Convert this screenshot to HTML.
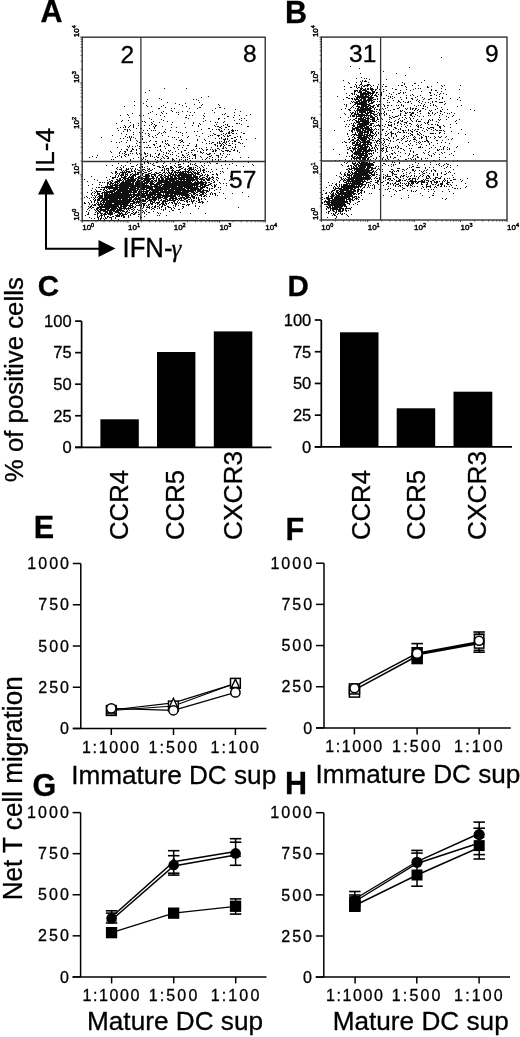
<!DOCTYPE html>
<html><head><meta charset="utf-8"><style>
html,body{margin:0;padding:0;background:#fff;}
svg{display:block;filter:grayscale(1);}
text{font-family:"Liberation Sans", sans-serif;fill:#000;stroke:#000;stroke-width:0.3px;}
</style></head><body>
<svg width="520" height="1037" viewBox="0 0 520 1037">
<rect width="520" height="1037" fill="#fff"/>
<text x="40.5" y="22.3" font-size="30.5" font-weight="bold">A</text>
<text x="285" y="22.8" font-size="30.5" font-weight="bold">B</text>
<text x="37.8" y="296.3" font-size="29.5" font-weight="bold">C</text>
<text x="287.6" y="295.8" font-size="29.5" font-weight="bold">D</text>
<text x="33.7" y="538" font-size="30.5" font-weight="bold">E</text>
<text x="285.5" y="540" font-size="30.5" font-weight="bold">F</text>
<text x="32.5" y="795.5" font-size="30.5" font-weight="bold">G</text>
<text x="285" y="793.5" font-size="30.5" font-weight="bold">H</text>
<path d="M164 88.5h1M186 88.5h1M149 90.5h1M145 92.5h1M208 96.5h1M201 97.5h1M159 98.5h1M147 99.5h1M161 99.5h1M193 99.5h1M196 99.5h1M198 100.5h1M134 101.5h1M146 101.5h1M167 102.5h1M199 102.5h1M143 103.5h1M175 103.5h1M185 103.5h1M179 104.5h1M194 104.5h1M202 104.5h1M218 104.5h1M134 105.5h1M146 105.5h1M163 105.5h1M182 105.5h1M201 105.5h1M219 105.5h1M124 106.5h1M147 106.5h1M151 106.5h1M161 106.5h1M186 106.5h1M165 107.5h1M199 107.5h2M219 107.5h2M158 108.5h2M171 108.5h1M174 108.5h1M189 108.5h1M197 108.5h1M215 108.5h1M224 108.5h1M235 109.5h1M171 110.5h1M212 110.5h1M152 111.5h1M163 111.5h1M172 111.5h1M182 111.5h1M187 111.5h1M240 111.5h1M150 112.5h1M161 112.5h1M176 112.5h1M178 112.5h1M190 112.5h1M194 112.5h1M214 112.5h1M234 112.5h1M132 113.5h1M148 113.5h1M162 113.5h1M166 113.5h1M204 113.5h1M225 113.5h1M127 114.5h1M156 114.5h1M178 114.5h1M222 114.5h1M224 114.5h1M250 114.5h1M120 115.5h1M128 115.5h1M139 115.5h1M143 115.5h1M160 115.5h1M186 115.5h1M189 115.5h1M192 115.5h1M203 115.5h1M234 115.5h1M239 115.5h1M246 115.5h1M140 116.5h1M164 116.5h1M204 116.5h1M227 116.5h2M129 117.5h1M185 117.5h2M233 117.5h1M149 118.5h1M188 118.5h1M203 118.5h1M218 118.5h2M224 118.5h1M241 118.5h1M244 118.5h1M151 119.5h1M161 119.5h1M218 119.5h1M239 119.5h1M122 120.5h1M128 120.5h1M163 120.5h1M205 120.5h1M234 120.5h1M241 120.5h1M246 120.5h1M121 121.5h1M142 121.5h1M144 121.5h1M153 121.5h1M167 121.5h1M203 121.5h1M210 121.5h1M224 121.5h1M130 122.5h1M145 122.5h1M151 122.5h1M159 122.5h1M172 122.5h1M193 122.5h1M215 122.5h1M217 122.5h1M223 122.5h1M116 123.5h1M138 123.5h1M152 123.5h1M184 123.5h1M193 123.5h1M199 123.5h1M236 123.5h2M239 123.5h1M133 124.5h1M151 124.5h1M154 124.5h1M171 124.5h1M200 124.5h1M216 124.5h1M225 124.5h1M227 124.5h1M241 124.5h1M124 125.5h1M130 125.5h1M133 125.5h1M138 125.5h1M144 125.5h1M149 125.5h1M155 125.5h2M192 125.5h1M198 125.5h1M214 125.5h1M223 125.5h1M227 125.5h1M125 126.5h1M129 126.5h1M133 126.5h1M153 126.5h1M155 126.5h1M162 126.5h1M198 126.5h1M215 126.5h1M217 126.5h2M221 126.5h1M228 126.5h2M232 126.5h1M247 126.5h2M120 127.5h1M123 127.5h1M125 127.5h1M128 127.5h1M133 127.5h1M154 127.5h1M171 127.5h1M176 127.5h1M185 127.5h1M219 127.5h2M225 127.5h2M117 128.5h1M136 128.5h1M140 128.5h2M149 128.5h1M154 128.5h1M208 128.5h2M221 128.5h1M124 129.5h2M127 129.5h1M129 129.5h1M165 129.5h1M201 129.5h1M212 129.5h1M216 129.5h1M218 129.5h2M224 129.5h1M228 129.5h1M232 129.5h1M118 130.5h1M127 130.5h1M130 130.5h1M143 130.5h1M147 130.5h1M151 130.5h1M153 130.5h1M155 130.5h1M170 130.5h1M219 130.5h1M221 130.5h1M231 130.5h3M235 130.5h1M237 130.5h1M123 131.5h1M127 131.5h1M164 131.5h1M176 131.5h1M194 131.5h1M197 131.5h1M210 131.5h1M220 131.5h3M229 131.5h1M232 131.5h2M133 132.5h1M139 132.5h1M142 132.5h1M159 132.5h1M163 132.5h1M165 132.5h1M178 132.5h1M180 132.5h1M186 132.5h1M228 132.5h2M231 132.5h1M241 132.5h1M121 133.5h1M140 133.5h1M145 133.5h1M148 133.5h1M158 133.5h1M161 133.5h1M182 133.5h1M202 133.5h1M213 133.5h1M223 133.5h1M226 133.5h1M228 133.5h2M232 133.5h2M236 133.5h1M243 133.5h2M126 134.5h1M133 134.5h1M140 134.5h1M149 134.5h1M157 134.5h1M214 134.5h2M221 134.5h1M225 134.5h1M112 135.5h1M148 135.5h1M155 135.5h1M162 135.5h1M182 135.5h1M196 135.5h1M210 135.5h1M212 135.5h1M217 135.5h3M223 135.5h1M227 135.5h1M229 135.5h2M125 136.5h1M129 136.5h1M131 136.5h1M140 136.5h1M142 136.5h1M149 136.5h1M152 136.5h1M168 136.5h1M188 136.5h1M199 136.5h1M208 136.5h1M218 136.5h1M224 136.5h1M227 136.5h2M237 136.5h1M240 136.5h1M101 137.5h1M127 137.5h1M129 137.5h1M131 137.5h1M133 137.5h1M153 137.5h1M156 137.5h1M172 137.5h1M174 137.5h1M178 137.5h1M187 137.5h1M221 137.5h1M234 137.5h2M240 137.5h1M120 138.5h1M123 138.5h1M130 138.5h1M135 138.5h1M142 138.5h1M215 138.5h1M219 138.5h1M221 138.5h1M225 138.5h1M227 138.5h1M231 138.5h2M255 138.5h1M130 139.5h1M142 139.5h1M176 139.5h1M181 139.5h1M197 139.5h1M204 139.5h1M223 139.5h3M227 139.5h1M236 139.5h1M241 139.5h1M246 139.5h1M127 140.5h1M130 140.5h1M136 140.5h1M150 140.5h1M165 140.5h1M167 140.5h1M179 140.5h2M182 140.5h1M197 140.5h1M205 140.5h1M224 140.5h1M229 140.5h1M234 140.5h2M111 141.5h1M121 141.5h1M137 141.5h1M149 141.5h1M155 141.5h2M162 141.5h1M165 141.5h1M181 141.5h2M209 141.5h1M219 141.5h1M221 141.5h1M224 141.5h1M226 141.5h1M228 141.5h1M232 141.5h1M234 141.5h2M116 142.5h1M119 142.5h1M126 142.5h1M139 142.5h2M143 142.5h2M146 142.5h1M162 142.5h1M180 142.5h1M183 142.5h1M202 142.5h1M212 142.5h2M217 142.5h1M219 142.5h1M223 142.5h2M226 142.5h1M238 142.5h2M136 143.5h1M156 143.5h1M165 143.5h1M167 143.5h1M189 143.5h1M206 143.5h1M209 143.5h1M211 143.5h1M217 143.5h1M219 143.5h2M222 143.5h1M225 143.5h1M229 143.5h1M232 143.5h1M240 143.5h1M242 143.5h1M153 144.5h2M166 144.5h1M168 144.5h1M174 144.5h1M196 144.5h1M214 144.5h2M221 144.5h1M223 144.5h1M226 144.5h1M235 144.5h1M129 145.5h1M137 145.5h1M148 145.5h1M154 145.5h1M160 145.5h1M168 145.5h2M178 145.5h2M183 145.5h1M187 145.5h2M196 145.5h1M215 145.5h1M217 145.5h1M220 145.5h2M224 145.5h1M228 145.5h3M127 146.5h1M129 146.5h1M132 146.5h1M135 146.5h1M139 146.5h2M159 146.5h2M164 146.5h1M195 146.5h2M217 146.5h1M220 146.5h1M223 146.5h1M235 146.5h1M244 146.5h1M117 147.5h1M128 147.5h1M144 147.5h1M146 147.5h2M149 147.5h2M155 147.5h1M157 147.5h1M173 147.5h1M177 147.5h1M182 147.5h1M206 147.5h1M211 147.5h1M223 147.5h1M225 147.5h1M232 147.5h1M235 147.5h1M132 148.5h1M139 148.5h1M165 148.5h1M174 148.5h1M186 148.5h1M196 148.5h1M199 148.5h1M201 148.5h1M217 148.5h2M222 148.5h2M226 148.5h1M121 149.5h1M126 149.5h2M132 149.5h2M136 149.5h1M160 149.5h1M178 149.5h1M193 149.5h1M202 149.5h1M206 149.5h2M210 149.5h1M212 149.5h1M215 149.5h1M219 149.5h1M231 149.5h1M234 149.5h1M127 150.5h1M131 150.5h1M136 150.5h1M140 150.5h1M157 150.5h1M160 150.5h1M168 150.5h1M170 150.5h1M184 150.5h2M191 150.5h2M194 150.5h1M203 150.5h1M206 150.5h1M213 150.5h1M215 150.5h2M221 150.5h1M225 150.5h4M233 150.5h2M237 150.5h1M110 151.5h1M120 151.5h1M124 151.5h2M130 151.5h2M161 151.5h1M169 151.5h1M175 151.5h1M181 151.5h1M197 151.5h1M200 151.5h1M212 151.5h2M215 151.5h1M222 151.5h2M227 151.5h1M229 151.5h2M237 151.5h1M111 152.5h1M119 152.5h1M125 152.5h1M136 152.5h1M144 152.5h1M163 152.5h1M166 152.5h1M172 152.5h1M181 152.5h1M188 152.5h1M191 152.5h1M200 152.5h2M203 152.5h1M239 152.5h1M119 153.5h1M122 153.5h1M124 153.5h1M130 153.5h1M132 153.5h1M136 153.5h1M139 153.5h1M144 153.5h2M147 153.5h1M155 153.5h1M159 153.5h1M166 153.5h1M168 153.5h1M178 153.5h1M186 153.5h1M202 153.5h1M206 153.5h1M209 153.5h2M214 153.5h1M220 153.5h1M223 153.5h1M125 154.5h2M128 154.5h1M137 154.5h1M140 154.5h2M145 154.5h1M150 154.5h1M158 154.5h2M163 154.5h1M170 154.5h1M172 154.5h1M182 154.5h1M188 154.5h1M192 154.5h1M194 154.5h2M207 154.5h3M220 154.5h1M227 154.5h1M229 154.5h1M97 155.5h1M119 155.5h1M124 155.5h1M128 155.5h1M140 155.5h1M147 155.5h1M150 155.5h1M158 155.5h1M165 155.5h1M176 155.5h1M182 155.5h2M187 155.5h1M193 155.5h3M211 155.5h1M216 155.5h3M222 155.5h1M92 156.5h1M112 156.5h1M117 156.5h1M121 156.5h1M125 156.5h1M145 156.5h2M150 156.5h1M152 156.5h1M156 156.5h1M162 156.5h1M166 156.5h2M178 156.5h1M184 156.5h1M189 156.5h1M195 156.5h1M200 156.5h1M209 156.5h2M218 156.5h1M226 156.5h1M89 157.5h1M96 157.5h1M115 157.5h1M121 157.5h1M138 157.5h1M143 157.5h1M154 157.5h1M157 157.5h2M163 157.5h1M168 157.5h1M181 157.5h1M183 157.5h1M185 157.5h1M187 157.5h1M195 157.5h1M201 157.5h1M207 157.5h1M212 157.5h1M218 157.5h1M221 157.5h1M225 157.5h1M240 157.5h1M248 157.5h1M133 158.5h1M141 158.5h1M143 158.5h1M161 158.5h1M164 158.5h1M167 158.5h2M172 158.5h1M176 158.5h1M189 158.5h1M192 158.5h1M195 158.5h1M206 158.5h1M209 158.5h1M111 159.5h1M113 159.5h1M130 159.5h1M142 159.5h1M145 159.5h1M155 159.5h1M160 159.5h1M172 159.5h2M179 159.5h1M181 159.5h1M185 159.5h1M187 159.5h1M202 159.5h1M205 159.5h1M212 159.5h1M215 159.5h1M218 159.5h1M220 159.5h1M232 159.5h1M130 160.5h1M141 160.5h1M147 160.5h1M157 160.5h1M161 160.5h1M172 160.5h1M174 160.5h1M179 160.5h1M183 160.5h1M185 160.5h1M190 160.5h1M212 160.5h1M218 160.5h1M225 160.5h1M123 161.5h1M127 161.5h1M139 161.5h1M149 161.5h1M156 161.5h1M163 161.5h2M178 161.5h1M184 161.5h1M192 161.5h1M205 161.5h1M209 161.5h1M220 161.5h3M228 161.5h1M232 161.5h1M127 162.5h1M144 162.5h1M147 162.5h2M156 162.5h2M164 162.5h1M178 162.5h1M188 162.5h1M200 162.5h1M207 162.5h1M209 162.5h1M248 162.5h1M118 163.5h1M130 163.5h1M144 163.5h1M148 163.5h1M150 163.5h1M153 163.5h1M163 163.5h1M170 163.5h1M175 163.5h1M183 163.5h1M190 163.5h1M195 163.5h1M204 163.5h1M210 163.5h1M216 163.5h2M232 163.5h1M137 164.5h1M140 164.5h3M152 164.5h1M178 164.5h3M190 164.5h1M192 164.5h1M194 164.5h1M225 164.5h1M229 164.5h1M252 164.5h1M106 165.5h1M112 165.5h1M121 165.5h1M125 165.5h1M136 165.5h1M153 165.5h2M162 165.5h1M166 165.5h1M174 165.5h1M178 165.5h1M188 165.5h1M195 165.5h2M201 165.5h1M204 165.5h1M208 165.5h1M221 165.5h1M236 165.5h1M253 165.5h1M123 166.5h1M131 166.5h3M141 166.5h2M147 166.5h1M157 166.5h3M163 166.5h1M165 166.5h1M170 166.5h2M175 166.5h1M179 166.5h3M187 166.5h2M197 166.5h1M202 166.5h1M243 166.5h1M117 167.5h1M120 167.5h1M123 167.5h1M139 167.5h2M142 167.5h1M144 167.5h1M159 167.5h2M162 167.5h2M170 167.5h3M176 167.5h1M178 167.5h3M183 167.5h1M189 167.5h3M193 167.5h1M195 167.5h1M199 167.5h1M203 167.5h1M116 168.5h1M121 168.5h1M126 168.5h1M128 168.5h1M130 168.5h1M132 168.5h1M135 168.5h1M140 168.5h1M147 168.5h1M149 168.5h1M154 168.5h1M164 168.5h1M166 168.5h3M170 168.5h2M173 168.5h1M181 168.5h2M185 168.5h1M188 168.5h4M193 168.5h1M197 168.5h1M200 168.5h1M206 168.5h1M222 168.5h1M227 168.5h1M117 169.5h1M119 169.5h3M126 169.5h3M131 169.5h1M135 169.5h1M137 169.5h1M142 169.5h3M148 169.5h2M152 169.5h1M162 169.5h1M164 169.5h1M166 169.5h1M168 169.5h1M172 169.5h1M179 169.5h2M184 169.5h2M187 169.5h1M189 169.5h5M195 169.5h1M200 169.5h1M203 169.5h2M211 169.5h1M216 169.5h1M121 170.5h1M123 170.5h1M125 170.5h2M131 170.5h1M134 170.5h1M138 170.5h2M142 170.5h1M145 170.5h1M147 170.5h1M150 170.5h2M161 170.5h2M164 170.5h1M167 170.5h2M171 170.5h3M176 170.5h4M185 170.5h1M188 170.5h2M191 170.5h1M194 170.5h1M196 170.5h1M198 170.5h1M200 170.5h1M202 170.5h3M115 171.5h2M122 171.5h1M124 171.5h1M126 171.5h4M131 171.5h2M134 171.5h2M140 171.5h2M143 171.5h1M148 171.5h2M164 171.5h1M168 171.5h1M172 171.5h1M174 171.5h2M178 171.5h1M180 171.5h1M182 171.5h7M190 171.5h1M192 171.5h2M197 171.5h1M200 171.5h1M203 171.5h1M206 171.5h1M208 171.5h1M212 171.5h1M220 171.5h1M222 171.5h1M234 171.5h1M111 172.5h1M115 172.5h2M120 172.5h7M128 172.5h3M135 172.5h1M137 172.5h5M144 172.5h3M151 172.5h1M155 172.5h2M159 172.5h2M163 172.5h2M166 172.5h1M168 172.5h2M171 172.5h2M174 172.5h10M185 172.5h1M187 172.5h5M193 172.5h3M197 172.5h3M203 172.5h2M210 172.5h1M223 172.5h1M112 173.5h1M115 173.5h1M117 173.5h1M119 173.5h1M122 173.5h2M125 173.5h1M127 173.5h1M132 173.5h1M135 173.5h1M137 173.5h2M142 173.5h2M148 173.5h3M154 173.5h1M156 173.5h3M162 173.5h1M165 173.5h1M167 173.5h1M169 173.5h3M173 173.5h1M175 173.5h1M177 173.5h1M179 173.5h8M188 173.5h1M191 173.5h2M194 173.5h5M201 173.5h1M216 173.5h1M220 173.5h1M116 174.5h1M119 174.5h1M121 174.5h3M125 174.5h3M130 174.5h2M133 174.5h6M142 174.5h1M145 174.5h4M151 174.5h5M159 174.5h3M164 174.5h1M168 174.5h1M170 174.5h4M175 174.5h2M178 174.5h16M195 174.5h1M197 174.5h3M202 174.5h1M205 174.5h1M207 174.5h1M212 174.5h2M216 174.5h2M115 175.5h1M118 175.5h1M120 175.5h4M125 175.5h1M127 175.5h1M130 175.5h1M132 175.5h4M140 175.5h1M142 175.5h1M145 175.5h5M151 175.5h1M154 175.5h2M158 175.5h2M161 175.5h2M164 175.5h2M168 175.5h3M172 175.5h20M193 175.5h3M200 175.5h3M204 175.5h1M207 175.5h2M217 175.5h1M91 176.5h1M110 176.5h1M115 176.5h1M118 176.5h1M121 176.5h1M124 176.5h3M129 176.5h1M131 176.5h3M135 176.5h1M138 176.5h3M143 176.5h7M151 176.5h3M155 176.5h1M157 176.5h1M160 176.5h2M163 176.5h1M165 176.5h4M170 176.5h3M174 176.5h2M177 176.5h3M181 176.5h11M193 176.5h5M199 176.5h2M206 176.5h2M212 176.5h1M230 176.5h1M106 177.5h1M112 177.5h4M117 177.5h1M121 177.5h5M128 177.5h6M137 177.5h3M141 177.5h2M145 177.5h4M152 177.5h2M156 177.5h2M160 177.5h3M164 177.5h2M167 177.5h2M170 177.5h3M174 177.5h3M178 177.5h20M199 177.5h1M202 177.5h3M207 177.5h1M209 177.5h1M211 177.5h3M216 177.5h2M112 178.5h2M119 178.5h2M123 178.5h6M130 178.5h4M135 178.5h2M138 178.5h17M156 178.5h1M158 178.5h2M161 178.5h3M165 178.5h20M186 178.5h8M195 178.5h4M200 178.5h3M205 178.5h2M208 178.5h3M213 178.5h1M218 178.5h1M84 179.5h1M94 179.5h1M109 179.5h1M116 179.5h2M119 179.5h2M122 179.5h1M124 179.5h2M127 179.5h9M137 179.5h2M141 179.5h2M144 179.5h7M153 179.5h1M156 179.5h1M158 179.5h2M161 179.5h3M165 179.5h12M178 179.5h20M199 179.5h6M206 179.5h4M212 179.5h1M216 179.5h1M224 179.5h1M97 180.5h1M107 180.5h1M111 180.5h2M117 180.5h5M123 180.5h1M125 180.5h11M137 180.5h4M143 180.5h7M151 180.5h2M154 180.5h3M158 180.5h10M169 180.5h6M176 180.5h3M180 180.5h2M183 180.5h2M186 180.5h9M196 180.5h2M201 180.5h1M203 180.5h2M207 180.5h3M213 180.5h1M217 180.5h1M229 180.5h1M233 180.5h1M87 181.5h1M109 181.5h2M112 181.5h1M115 181.5h5M122 181.5h2M125 181.5h10M136 181.5h4M141 181.5h4M146 181.5h8M155 181.5h2M158 181.5h33M192 181.5h1M195 181.5h1M197 181.5h2M200 181.5h3M205 181.5h1M211 181.5h1M214 181.5h1M99 182.5h2M102 182.5h1M104 182.5h1M107 182.5h2M110 182.5h2M114 182.5h4M119 182.5h1M121 182.5h10M132 182.5h2M135 182.5h8M144 182.5h5M150 182.5h3M154 182.5h1M157 182.5h14M172 182.5h20M194 182.5h13M208 182.5h2M213 182.5h2M219 182.5h1M107 183.5h2M110 183.5h4M115 183.5h1M117 183.5h2M120 183.5h14M135 183.5h13M149 183.5h5M156 183.5h6M164 183.5h40M205 183.5h2M210 183.5h2M220 183.5h1M223 183.5h1M226 183.5h1M92 184.5h1M99 184.5h1M107 184.5h1M109 184.5h2M112 184.5h1M114 184.5h4M119 184.5h15M135 184.5h10M146 184.5h1M150 184.5h10M161 184.5h38M200 184.5h6M208 184.5h3M214 184.5h1M216 184.5h1M230 184.5h1M88 185.5h1M101 185.5h1M107 185.5h1M110 185.5h39M150 185.5h2M154 185.5h4M159 185.5h3M163 185.5h35M200 185.5h3M204 185.5h5M211 185.5h1M214 185.5h2M226 185.5h1M105 186.5h8M115 186.5h3M119 186.5h42M162 186.5h15M178 186.5h15M194 186.5h1M196 186.5h5M202 186.5h4M212 186.5h1M214 186.5h2M96 187.5h1M98 187.5h2M101 187.5h28M130 187.5h6M137 187.5h16M154 187.5h29M184 187.5h14M200 187.5h5M206 187.5h2M214 187.5h1M218 187.5h1M220 187.5h1M92 188.5h1M104 188.5h1M106 188.5h1M108 188.5h10M119 188.5h20M140 188.5h5M146 188.5h7M155 188.5h15M171 188.5h14M186 188.5h13M200 188.5h3M207 188.5h1M209 188.5h1M211 188.5h2M95 189.5h1M100 189.5h2M103 189.5h2M107 189.5h1M109 189.5h1M113 189.5h15M129 189.5h7M137 189.5h10M149 189.5h37M187 189.5h2M190 189.5h12M203 189.5h1M209 189.5h1M216 189.5h1M220 189.5h1M91 190.5h1M96 190.5h1M103 190.5h1M105 190.5h2M110 190.5h6M117 190.5h21M139 190.5h1M141 190.5h1M143 190.5h1M146 190.5h4M151 190.5h12M164 190.5h3M168 190.5h6M175 190.5h21M197 190.5h4M202 190.5h6M209 190.5h1M214 190.5h1M94 191.5h1M96 191.5h5M104 191.5h1M106 191.5h9M116 191.5h16M133 191.5h4M138 191.5h11M150 191.5h1M152 191.5h7M160 191.5h21M182 191.5h12M195 191.5h1M197 191.5h7M206 191.5h3M87 192.5h1M92 192.5h1M95 192.5h1M97 192.5h1M102 192.5h11M114 192.5h7M122 192.5h15M138 192.5h4M143 192.5h1M145 192.5h3M149 192.5h40M191 192.5h4M196 192.5h2M200 192.5h5M206 192.5h1M211 192.5h1M219 192.5h1M242 192.5h1M91 193.5h1M94 193.5h1M97 193.5h3M101 193.5h2M104 193.5h4M109 193.5h1M111 193.5h18M130 193.5h1M133 193.5h2M137 193.5h3M141 193.5h7M149 193.5h7M157 193.5h4M163 193.5h1M165 193.5h23M189 193.5h2M193 193.5h3M199 193.5h1M202 193.5h2M205 193.5h1M210 193.5h1M212 193.5h1M214 193.5h2M223 193.5h1M232 193.5h1M91 194.5h1M97 194.5h3M102 194.5h1M104 194.5h41M146 194.5h16M163 194.5h1M165 194.5h4M170 194.5h3M174 194.5h15M191 194.5h1M193 194.5h2M196 194.5h2M200 194.5h4M206 194.5h1M210 194.5h1M212 194.5h1M215 194.5h1M92 195.5h1M94 195.5h1M96 195.5h1M99 195.5h4M104 195.5h28M133 195.5h20M154 195.5h2M157 195.5h19M177 195.5h1M179 195.5h1M181 195.5h9M191 195.5h2M195 195.5h1M197 195.5h1M199 195.5h3M204 195.5h2M215 195.5h1M217 195.5h1M86 196.5h1M95 196.5h1M98 196.5h5M104 196.5h26M131 196.5h4M136 196.5h3M140 196.5h6M147 196.5h4M152 196.5h3M156 196.5h5M162 196.5h14M178 196.5h2M182 196.5h1M185 196.5h4M191 196.5h4M201 196.5h1M203 196.5h2M206 196.5h1M209 196.5h1M248 196.5h1M84 197.5h1M87 197.5h1M91 197.5h1M93 197.5h1M95 197.5h1M97 197.5h1M99 197.5h4M104 197.5h30M135 197.5h2M138 197.5h8M147 197.5h16M164 197.5h4M170 197.5h4M175 197.5h2M180 197.5h5M186 197.5h5M192 197.5h3M196 197.5h1M198 197.5h1M89 198.5h1M94 198.5h1M98 198.5h30M129 198.5h3M134 198.5h7M145 198.5h5M152 198.5h5M158 198.5h3M163 198.5h4M169 198.5h8M178 198.5h4M183 198.5h5M190 198.5h1M193 198.5h2M196 198.5h1M198 198.5h1M201 198.5h1M204 198.5h1M225 198.5h1M93 199.5h1M95 199.5h1M97 199.5h3M102 199.5h6M109 199.5h9M119 199.5h2M122 199.5h10M133 199.5h8M142 199.5h2M145 199.5h3M149 199.5h8M158 199.5h1M161 199.5h1M165 199.5h3M169 199.5h2M172 199.5h2M175 199.5h3M179 199.5h1M181 199.5h1M184 199.5h2M188 199.5h2M191 199.5h1M198 199.5h2M201 199.5h1M205 199.5h1M90 200.5h1M94 200.5h2M97 200.5h3M101 200.5h30M132 200.5h2M135 200.5h1M137 200.5h1M139 200.5h7M148 200.5h4M153 200.5h3M158 200.5h1M160 200.5h2M163 200.5h3M167 200.5h9M178 200.5h1M180 200.5h4M186 200.5h2M191 200.5h1M193 200.5h2M198 200.5h2M91 201.5h1M94 201.5h1M97 201.5h1M100 201.5h2M103 201.5h2M106 201.5h29M136 201.5h5M142 201.5h4M147 201.5h1M150 201.5h3M154 201.5h1M159 201.5h1M162 201.5h6M173 201.5h2M177 201.5h1M184 201.5h1M186 201.5h2M189 201.5h1M191 201.5h3M196 201.5h1M199 201.5h1M201 201.5h2M207 201.5h1M84 202.5h1M88 202.5h1M91 202.5h1M94 202.5h1M97 202.5h2M100 202.5h1M102 202.5h28M133 202.5h7M141 202.5h1M146 202.5h1M150 202.5h1M152 202.5h3M156 202.5h4M162 202.5h2M165 202.5h1M169 202.5h1M171 202.5h2M174 202.5h1M177 202.5h1M179 202.5h1M187 202.5h1M192 202.5h1M198 202.5h3M202 202.5h2M84 203.5h2M89 203.5h1M96 203.5h1M98 203.5h1M100 203.5h2M103 203.5h1M105 203.5h7M114 203.5h15M130 203.5h5M136 203.5h1M138 203.5h1M140 203.5h1M142 203.5h4M150 203.5h3M155 203.5h1M157 203.5h2M161 203.5h3M165 203.5h2M168 203.5h1M172 203.5h1M174 203.5h3M178 203.5h1M180 203.5h1M192 203.5h1M195 203.5h1M202 203.5h1M89 204.5h1M92 204.5h1M94 204.5h2M97 204.5h31M130 204.5h1M132 204.5h1M135 204.5h1M139 204.5h1M141 204.5h1M143 204.5h2M148 204.5h2M151 204.5h2M157 204.5h1M159 204.5h2M162 204.5h3M166 204.5h1M175 204.5h2M182 204.5h3M187 204.5h3M91 205.5h1M93 205.5h3M98 205.5h2M101 205.5h2M104 205.5h15M120 205.5h2M123 205.5h10M136 205.5h6M143 205.5h2M146 205.5h1M148 205.5h1M155 205.5h1M159 205.5h1M162 205.5h1M164 205.5h2M173 205.5h1M175 205.5h1M178 205.5h1M186 205.5h1M188 205.5h1M195 205.5h1M88 206.5h1M90 206.5h2M99 206.5h20M120 206.5h7M129 206.5h2M132 206.5h2M135 206.5h1M141 206.5h1M143 206.5h1M147 206.5h1M149 206.5h1M152 206.5h1M154 206.5h2M157 206.5h2M161 206.5h2M167 206.5h2M175 206.5h1M182 206.5h2M195 206.5h1M199 206.5h1M89 207.5h2M92 207.5h2M97 207.5h20M118 207.5h4M123 207.5h3M128 207.5h1M130 207.5h3M134 207.5h2M140 207.5h1M143 207.5h1M146 207.5h4M151 207.5h1M154 207.5h2M159 207.5h1M161 207.5h1M165 207.5h1M168 207.5h3M173 207.5h1M183 207.5h1M238 207.5h1M88 208.5h1M91 208.5h1M96 208.5h3M100 208.5h2M105 208.5h5M111 208.5h7M119 208.5h12M133 208.5h1M140 208.5h1M142 208.5h1M149 208.5h1M152 208.5h2M157 208.5h1M159 208.5h1M165 208.5h1M171 208.5h1M174 208.5h1M182 208.5h1M198 208.5h1M87 209.5h1M94 209.5h1M96 209.5h2M99 209.5h10M110 209.5h6M117 209.5h5M124 209.5h1M126 209.5h1M128 209.5h1M131 209.5h2M134 209.5h1M137 209.5h1M146 209.5h1M151 209.5h1M154 209.5h1M161 209.5h1M163 209.5h1M165 209.5h1M171 209.5h1M178 209.5h2M89 210.5h1M95 210.5h1M97 210.5h2M100 210.5h6M107 210.5h8M116 210.5h8M127 210.5h1M129 210.5h1M133 210.5h1M138 210.5h3M142 210.5h1M145 210.5h1M163 210.5h1M172 210.5h2M86 211.5h1M96 211.5h1M98 211.5h3M103 211.5h5M109 211.5h3M113 211.5h6M120 211.5h1M122 211.5h3M126 211.5h2M132 211.5h1M136 211.5h1M143 211.5h1M146 211.5h1M153 211.5h1M169 211.5h1M88 212.5h1M95 212.5h1M97 212.5h1M99 212.5h2M105 212.5h3M109 212.5h4M115 212.5h5M121 212.5h1M125 212.5h2M128 212.5h2M133 212.5h1M135 212.5h2M138 212.5h1M142 212.5h1M144 212.5h1M148 212.5h2M157 212.5h1M180 212.5h1M88 213.5h1M97 213.5h2M100 213.5h3M104 213.5h2M107 213.5h6M114 213.5h1M118 213.5h5M125 213.5h1M127 213.5h1M131 213.5h2M134 213.5h2M144 213.5h1M158 213.5h1M160 213.5h1M190 213.5h1M205 213.5h1M87 214.5h2M94 214.5h2M97 214.5h1M101 214.5h1M103 214.5h4M108 214.5h5M117 214.5h1M119 214.5h2M122 214.5h5M130 214.5h1M133 214.5h2M138 214.5h2M146 214.5h1M85 215.5h1M97 215.5h1M100 215.5h3M104 215.5h1M110 215.5h1M115 215.5h5M121 215.5h3M128 215.5h1M130 215.5h1M157 215.5h1M159 215.5h1M166 215.5h1M97 216.5h1M99 216.5h1M101 216.5h1M104 216.5h1M107 216.5h2M112 216.5h2M116 216.5h4M121 216.5h1M123 216.5h2M128 216.5h1M138 216.5h1M140 216.5h1M144 216.5h1M89 217.5h1M97 217.5h2M101 217.5h1M105 217.5h1M107 217.5h1M109 217.5h3M115 217.5h1M123 217.5h2M128 217.5h1M140 217.5h2M91 218.5h1M94 218.5h1M98 218.5h1M100 218.5h2M103 218.5h1M105 218.5h2M111 218.5h1M115 218.5h1M140 218.5h1M98 219.5h1M100 219.5h1M104 219.5h1M111 219.5h1M118 219.5h1" stroke="#111" stroke-width="1" fill="none" shape-rendering="crispEdges"/>
<path d="M441 57.5h1M350 66.5h1M409 67.5h1M359 68.5h1M383 71.5h1M360 73.5h1M396 73.5h1M405 75.5h1M361 77.5h1M356 78.5h1M364 78.5h1M366 78.5h1M369 79.5h1M386 79.5h1M343 80.5h1M362 80.5h1M365 80.5h1M424 80.5h1M360 81.5h1M362 81.5h1M364 81.5h3M380 81.5h1M348 82.5h1M356 82.5h1M361 82.5h1M368 82.5h1M402 82.5h1M421 82.5h1M437 82.5h1M349 83.5h1M361 83.5h1M404 83.5h1M414 83.5h2M355 84.5h1M360 84.5h2M367 84.5h3M378 84.5h1M383 84.5h1M404 84.5h1M356 85.5h1M359 85.5h1M362 85.5h1M364 85.5h5M370 85.5h1M373 85.5h1M398 85.5h1M401 85.5h2M412 85.5h1M418 85.5h1M441 85.5h1M444 85.5h1M460 85.5h1M344 86.5h1M354 86.5h1M356 86.5h1M361 86.5h1M363 86.5h2M367 86.5h1M371 86.5h1M377 86.5h1M382 86.5h1M385 86.5h2M405 86.5h1M427 86.5h1M431 86.5h1M442 86.5h1M350 87.5h2M356 87.5h1M358 87.5h2M361 87.5h1M370 87.5h1M377 87.5h1M406 87.5h1M427 87.5h2M357 88.5h1M360 88.5h3M365 88.5h1M367 88.5h2M370 88.5h3M377 88.5h1M392 88.5h1M415 88.5h1M418 88.5h1M420 88.5h1M441 88.5h1M344 89.5h1M360 89.5h2M363 89.5h3M367 89.5h2M370 89.5h4M375 89.5h2M379 89.5h1M383 89.5h1M395 89.5h2M406 89.5h1M413 89.5h1M431 89.5h1M445 89.5h1M459 89.5h1M354 90.5h4M359 90.5h2M362 90.5h5M371 90.5h2M375 90.5h1M386 90.5h1M400 90.5h1M410 90.5h1M431 90.5h1M435 90.5h2M354 91.5h2M357 91.5h1M359 91.5h3M365 91.5h4M372 91.5h3M383 91.5h1M421 91.5h1M441 91.5h1M354 92.5h1M358 92.5h4M363 92.5h3M367 92.5h4M372 92.5h3M376 92.5h2M381 92.5h1M393 92.5h1M400 92.5h1M403 92.5h1M405 92.5h1M429 92.5h2M437 92.5h1M346 93.5h1M351 93.5h2M354 93.5h1M360 93.5h14M376 93.5h1M381 93.5h1M389 93.5h1M398 93.5h2M403 93.5h1M430 93.5h1M440 93.5h1M443 93.5h1M352 94.5h1M354 94.5h1M356 94.5h1M360 94.5h9M370 94.5h1M372 94.5h1M375 94.5h1M378 94.5h1M381 94.5h1M391 94.5h1M396 94.5h1M412 94.5h1M434 94.5h1M439 94.5h1M446 94.5h1M349 95.5h1M357 95.5h2M360 95.5h4M365 95.5h2M368 95.5h2M371 95.5h2M374 95.5h3M381 95.5h1M386 95.5h1M406 95.5h1M410 95.5h1M413 95.5h1M420 95.5h1M430 95.5h2M436 95.5h1M337 96.5h1M355 96.5h1M357 96.5h12M370 96.5h2M376 96.5h2M388 96.5h1M390 96.5h1M392 96.5h1M417 96.5h1M439 96.5h1M346 97.5h2M356 97.5h18M390 97.5h1M394 97.5h1M400 97.5h1M406 97.5h1M415 97.5h1M422 97.5h1M442 97.5h1M459 97.5h1M348 98.5h2M351 98.5h2M354 98.5h1M356 98.5h2M359 98.5h1M361 98.5h5M368 98.5h5M377 98.5h1M383 98.5h2M388 98.5h1M392 98.5h1M406 98.5h1M411 98.5h2M424 98.5h1M430 98.5h2M436 98.5h1M442 98.5h1M450 98.5h1M343 99.5h1M352 99.5h1M354 99.5h5M360 99.5h2M363 99.5h3M367 99.5h5M373 99.5h3M377 99.5h1M401 99.5h1M412 99.5h1M417 99.5h1M423 99.5h1M428 99.5h2M439 99.5h1M457 99.5h1M355 100.5h1M358 100.5h4M363 100.5h10M387 100.5h1M393 100.5h1M398 100.5h1M416 100.5h1M419 100.5h1M460 100.5h1M351 101.5h1M353 101.5h1M356 101.5h4M361 101.5h6M368 101.5h2M371 101.5h1M373 101.5h2M377 101.5h1M379 101.5h1M398 101.5h2M403 101.5h1M408 101.5h1M410 101.5h1M418 101.5h1M422 101.5h1M432 101.5h1M435 101.5h2M444 101.5h1M352 102.5h1M354 102.5h4M359 102.5h8M368 102.5h1M371 102.5h3M387 102.5h1M389 102.5h1M397 102.5h1M400 102.5h1M405 102.5h1M407 102.5h2M419 102.5h1M425 102.5h1M428 102.5h1M432 102.5h1M439 102.5h4M350 103.5h1M355 103.5h12M369 103.5h4M380 103.5h1M411 103.5h1M421 103.5h1M430 103.5h1M445 103.5h1M344 104.5h1M346 104.5h1M354 104.5h2M357 104.5h13M376 104.5h1M378 104.5h2M383 104.5h1M401 104.5h1M424 104.5h1M433 104.5h1M444 104.5h1M346 105.5h1M353 105.5h1M357 105.5h1M361 105.5h6M368 105.5h3M373 105.5h2M377 105.5h2M384 105.5h1M387 105.5h2M391 105.5h1M396 105.5h1M398 105.5h1M401 105.5h1M403 105.5h1M414 105.5h1M418 105.5h1M420 105.5h1M423 105.5h1M430 105.5h1M433 105.5h1M435 105.5h1M461 105.5h1M346 106.5h1M352 106.5h1M356 106.5h4M361 106.5h8M370 106.5h4M377 106.5h2M384 106.5h1M403 106.5h1M416 106.5h1M423 106.5h1M425 106.5h1M436 106.5h1M457 106.5h1M351 107.5h1M353 107.5h1M358 107.5h6M365 107.5h3M369 107.5h2M372 107.5h2M375 107.5h1M387 107.5h1M399 107.5h1M410 107.5h1M427 107.5h1M441 107.5h1M345 108.5h1M350 108.5h1M355 108.5h1M357 108.5h2M360 108.5h12M374 108.5h1M380 108.5h1M382 108.5h1M385 108.5h1M397 108.5h2M405 108.5h1M407 108.5h1M410 108.5h1M412 108.5h2M415 108.5h2M422 108.5h2M437 108.5h1M341 109.5h1M348 109.5h2M357 109.5h14M374 109.5h1M376 109.5h2M379 109.5h1M383 109.5h1M393 109.5h2M406 109.5h1M410 109.5h1M412 109.5h1M415 109.5h1M418 109.5h1M425 109.5h1M435 109.5h1M442 109.5h1M447 109.5h1M470 109.5h1M349 110.5h2M354 110.5h1M356 110.5h17M379 110.5h2M388 110.5h1M390 110.5h1M400 110.5h1M402 110.5h1M414 110.5h1M417 110.5h1M420 110.5h1M429 110.5h1M431 110.5h1M440 110.5h1M474 110.5h1M355 111.5h1M357 111.5h1M359 111.5h7M367 111.5h1M369 111.5h6M376 111.5h1M384 111.5h1M400 111.5h2M404 111.5h1M419 111.5h2M430 111.5h1M440 111.5h2M350 112.5h1M352 112.5h2M355 112.5h1M357 112.5h1M359 112.5h7M367 112.5h5M374 112.5h1M378 112.5h1M380 112.5h1M384 112.5h1M392 112.5h1M405 112.5h1M407 112.5h1M409 112.5h2M412 112.5h2M417 112.5h1M428 112.5h1M432 112.5h1M437 112.5h1M444 112.5h1M451 112.5h1M344 113.5h1M351 113.5h2M354 113.5h2M357 113.5h2M361 113.5h2M365 113.5h4M370 113.5h4M377 113.5h1M379 113.5h1M381 113.5h1M383 113.5h1M386 113.5h1M400 113.5h1M405 113.5h2M411 113.5h3M420 113.5h1M428 113.5h2M432 113.5h1M435 113.5h1M440 113.5h1M447 113.5h1M449 113.5h1M454 113.5h1M345 114.5h1M351 114.5h1M354 114.5h11M366 114.5h2M370 114.5h1M373 114.5h4M379 114.5h1M384 114.5h1M386 114.5h1M400 114.5h1M410 114.5h2M415 114.5h1M434 114.5h1M442 114.5h1M350 115.5h1M352 115.5h3M356 115.5h1M358 115.5h14M374 115.5h1M377 115.5h1M379 115.5h1M384 115.5h1M389 115.5h1M398 115.5h1M400 115.5h1M404 115.5h2M410 115.5h2M417 115.5h1M428 115.5h1M430 115.5h1M439 115.5h1M453 115.5h1M350 116.5h1M352 116.5h3M356 116.5h7M364 116.5h1M366 116.5h1M368 116.5h1M370 116.5h3M375 116.5h2M392 116.5h1M395 116.5h3M412 116.5h1M414 116.5h1M419 116.5h1M423 116.5h1M446 116.5h1M452 116.5h1M340 117.5h1M348 117.5h1M356 117.5h1M360 117.5h2M363 117.5h3M367 117.5h2M370 117.5h5M377 117.5h1M389 117.5h2M393 117.5h2M402 117.5h1M405 117.5h1M409 117.5h1M439 117.5h1M448 117.5h1M355 118.5h2M358 118.5h6M365 118.5h5M372 118.5h3M377 118.5h1M381 118.5h1M391 118.5h1M399 118.5h1M406 118.5h1M410 118.5h1M413 118.5h1M350 119.5h1M353 119.5h2M358 119.5h8M367 119.5h2M370 119.5h5M377 119.5h2M382 119.5h1M389 119.5h1M398 119.5h1M404 119.5h1M410 119.5h1M417 119.5h1M421 119.5h1M429 119.5h1M432 119.5h1M438 119.5h1M440 119.5h1M446 119.5h1M459 119.5h1M347 120.5h1M349 120.5h1M352 120.5h1M355 120.5h2M358 120.5h1M360 120.5h9M372 120.5h3M376 120.5h1M395 120.5h1M400 120.5h1M402 120.5h1M411 120.5h1M416 120.5h1M428 120.5h1M430 120.5h1M432 120.5h1M439 120.5h1M456 120.5h1M344 121.5h1M356 121.5h13M370 121.5h1M372 121.5h4M378 121.5h1M386 121.5h1M389 121.5h1M394 121.5h1M398 121.5h1M401 121.5h2M407 121.5h1M412 121.5h1M416 121.5h1M418 121.5h3M428 121.5h1M436 121.5h1M455 121.5h1M354 122.5h1M356 122.5h4M362 122.5h8M376 122.5h1M380 122.5h1M388 122.5h1M390 122.5h2M397 122.5h2M404 122.5h3M424 122.5h1M427 122.5h2M438 122.5h1M351 123.5h1M353 123.5h1M355 123.5h1M358 123.5h11M370 123.5h4M380 123.5h1M394 123.5h1M397 123.5h1M400 123.5h1M406 123.5h1M409 123.5h2M425 123.5h1M427 123.5h1M456 123.5h1M346 124.5h1M349 124.5h1M353 124.5h1M357 124.5h12M370 124.5h2M378 124.5h1M385 124.5h1M388 124.5h1M391 124.5h1M394 124.5h1M401 124.5h1M404 124.5h1M411 124.5h1M417 124.5h1M421 124.5h1M428 124.5h1M431 124.5h2M435 124.5h1M437 124.5h1M450 124.5h1M352 125.5h3M357 125.5h1M359 125.5h8M369 125.5h3M374 125.5h1M376 125.5h4M382 125.5h1M388 125.5h4M397 125.5h1M407 125.5h1M416 125.5h1M418 125.5h1M420 125.5h1M437 125.5h2M443 125.5h1M345 126.5h1M348 126.5h1M353 126.5h2M357 126.5h8M366 126.5h3M373 126.5h1M375 126.5h1M379 126.5h1M384 126.5h1M391 126.5h1M401 126.5h1M405 126.5h1M410 126.5h1M417 126.5h2M439 126.5h2M444 126.5h1M352 127.5h1M355 127.5h8M364 127.5h5M370 127.5h2M387 127.5h1M394 127.5h2M406 127.5h1M418 127.5h1M420 127.5h2M427 127.5h1M430 127.5h4M439 127.5h2M450 127.5h1M352 128.5h7M360 128.5h10M371 128.5h1M375 128.5h1M380 128.5h1M395 128.5h2M400 128.5h1M423 128.5h1M428 128.5h2M433 128.5h1M440 128.5h1M352 129.5h3M356 129.5h5M362 129.5h2M365 129.5h8M374 129.5h1M376 129.5h1M378 129.5h1M382 129.5h2M389 129.5h1M393 129.5h1M398 129.5h1M400 129.5h1M408 129.5h1M412 129.5h1M415 129.5h1M417 129.5h2M426 129.5h1M431 129.5h1M435 129.5h1M461 129.5h1M334 130.5h1M349 130.5h1M351 130.5h2M354 130.5h1M356 130.5h5M362 130.5h4M367 130.5h5M373 130.5h1M382 130.5h1M402 130.5h2M405 130.5h1M408 130.5h1M410 130.5h1M414 130.5h1M422 130.5h1M427 130.5h1M433 130.5h1M436 130.5h2M439 130.5h3M443 130.5h1M351 131.5h2M357 131.5h6M364 131.5h5M370 131.5h3M376 131.5h1M380 131.5h1M386 131.5h1M391 131.5h1M398 131.5h1M403 131.5h1M411 131.5h2M416 131.5h2M424 131.5h1M444 131.5h1M451 131.5h1M352 132.5h1M355 132.5h1M357 132.5h1M359 132.5h10M370 132.5h3M375 132.5h1M378 132.5h1M390 132.5h2M397 132.5h1M399 132.5h2M403 132.5h2M406 132.5h1M412 132.5h1M419 132.5h1M439 132.5h2M347 133.5h1M355 133.5h1M358 133.5h5M364 133.5h1M367 133.5h2M370 133.5h1M372 133.5h2M375 133.5h1M378 133.5h1M380 133.5h1M385 133.5h1M388 133.5h1M391 133.5h3M395 133.5h1M408 133.5h1M410 133.5h1M417 133.5h1M420 133.5h1M430 133.5h4M435 133.5h1M439 133.5h1M444 133.5h1M458 133.5h1M347 134.5h1M352 134.5h5M358 134.5h5M364 134.5h4M369 134.5h2M374 134.5h1M376 134.5h1M381 134.5h1M387 134.5h1M391 134.5h1M395 134.5h1M411 134.5h2M417 134.5h2M421 134.5h1M465 134.5h1M351 135.5h1M354 135.5h1M356 135.5h9M366 135.5h8M376 135.5h1M385 135.5h2M391 135.5h1M396 135.5h1M404 135.5h1M410 135.5h1M412 135.5h1M419 135.5h1M423 135.5h1M348 136.5h1M353 136.5h1M358 136.5h4M363 136.5h5M369 136.5h1M371 136.5h2M375 136.5h1M391 136.5h1M396 136.5h1M403 136.5h1M406 136.5h1M408 136.5h1M414 136.5h1M421 136.5h1M425 136.5h2M428 136.5h1M434 136.5h1M438 136.5h1M441 136.5h1M446 136.5h1M352 137.5h1M354 137.5h1M357 137.5h12M370 137.5h1M372 137.5h1M380 137.5h1M388 137.5h1M393 137.5h1M404 137.5h1M413 137.5h1M415 137.5h1M421 137.5h2M426 137.5h1M430 137.5h1M435 137.5h1M439 137.5h2M445 137.5h1M349 138.5h1M354 138.5h2M358 138.5h9M368 138.5h2M372 138.5h1M374 138.5h1M378 138.5h1M381 138.5h1M383 138.5h1M389 138.5h1M393 138.5h1M401 138.5h1M403 138.5h1M407 138.5h1M414 138.5h1M419 138.5h1M421 138.5h1M426 138.5h1M434 138.5h1M452 138.5h1M348 139.5h2M352 139.5h2M357 139.5h2M360 139.5h7M369 139.5h3M379 139.5h1M384 139.5h1M386 139.5h2M397 139.5h2M402 139.5h1M413 139.5h3M426 139.5h1M448 139.5h1M451 139.5h1M351 140.5h3M356 140.5h4M361 140.5h5M367 140.5h3M372 140.5h2M375 140.5h1M377 140.5h2M383 140.5h1M388 140.5h1M390 140.5h1M396 140.5h1M401 140.5h1M407 140.5h1M410 140.5h1M416 140.5h1M426 140.5h2M436 140.5h2M442 140.5h1M344 141.5h1M350 141.5h1M354 141.5h2M357 141.5h1M359 141.5h2M362 141.5h8M376 141.5h2M379 141.5h1M384 141.5h1M390 141.5h1M393 141.5h1M405 141.5h2M409 141.5h1M414 141.5h1M419 141.5h1M422 141.5h1M424 141.5h2M427 141.5h2M342 142.5h1M345 142.5h2M349 142.5h1M352 142.5h3M356 142.5h3M360 142.5h12M374 142.5h1M376 142.5h1M381 142.5h1M384 142.5h1M399 142.5h1M416 142.5h1M418 142.5h1M420 142.5h1M428 142.5h1M431 142.5h1M441 142.5h1M445 142.5h1M468 142.5h1M352 143.5h3M356 143.5h2M359 143.5h2M363 143.5h3M367 143.5h2M370 143.5h2M377 143.5h1M379 143.5h1M383 143.5h1M389 143.5h1M402 143.5h1M410 143.5h1M419 143.5h1M429 143.5h1M437 143.5h1M449 143.5h1M352 144.5h1M355 144.5h6M362 144.5h9M375 144.5h1M382 144.5h1M385 144.5h1M408 144.5h1M416 144.5h1M421 144.5h1M429 144.5h1M346 145.5h1M353 145.5h13M367 145.5h1M370 145.5h2M375 145.5h2M378 145.5h1M383 145.5h1M388 145.5h1M397 145.5h1M409 145.5h1M412 145.5h1M426 145.5h1M433 145.5h1M350 146.5h1M355 146.5h1M358 146.5h5M364 146.5h5M371 146.5h1M375 146.5h1M385 146.5h2M395 146.5h1M398 146.5h1M406 146.5h1M420 146.5h1M440 146.5h1M444 146.5h1M457 146.5h1M347 147.5h1M349 147.5h1M352 147.5h1M354 147.5h2M357 147.5h2M360 147.5h8M369 147.5h1M372 147.5h1M374 147.5h1M376 147.5h1M380 147.5h1M383 147.5h1M387 147.5h1M389 147.5h1M391 147.5h1M393 147.5h1M395 147.5h1M398 147.5h1M418 147.5h3M422 147.5h1M431 147.5h1M435 147.5h1M443 147.5h1M447 147.5h1M456 147.5h1M349 148.5h2M352 148.5h5M358 148.5h9M369 148.5h1M371 148.5h2M374 148.5h1M377 148.5h1M381 148.5h3M386 148.5h1M391 148.5h1M397 148.5h1M400 148.5h2M409 148.5h1M411 148.5h1M429 148.5h1M443 148.5h1M449 148.5h1M333 149.5h1M347 149.5h2M353 149.5h3M357 149.5h10M368 149.5h3M375 149.5h1M377 149.5h1M382 149.5h1M386 149.5h1M403 149.5h1M437 149.5h1M439 149.5h1M441 149.5h1M443 149.5h1M447 149.5h1M449 149.5h1M350 150.5h2M353 150.5h1M355 150.5h1M357 150.5h5M363 150.5h11M375 150.5h1M381 150.5h1M383 150.5h1M386 150.5h1M392 150.5h1M404 150.5h1M410 150.5h1M425 150.5h1M437 150.5h2M351 151.5h2M355 151.5h15M371 151.5h1M375 151.5h1M382 151.5h1M386 151.5h2M398 151.5h1M410 151.5h1M413 151.5h1M429 151.5h1M454 151.5h1M347 152.5h1M352 152.5h1M354 152.5h7M362 152.5h2M365 152.5h3M373 152.5h1M377 152.5h1M380 152.5h1M385 152.5h1M394 152.5h1M400 152.5h1M413 152.5h1M423 152.5h1M428 152.5h1M435 152.5h1M441 152.5h1M444 152.5h1M347 153.5h1M353 153.5h14M368 153.5h4M373 153.5h1M391 153.5h2M395 153.5h1M405 153.5h1M409 153.5h1M424 153.5h1M433 153.5h1M442 153.5h1M451 153.5h1M339 154.5h1M352 154.5h1M354 154.5h10M365 154.5h3M369 154.5h1M371 154.5h1M389 154.5h1M392 154.5h1M409 154.5h1M416 154.5h2M428 154.5h1M434 154.5h1M439 154.5h1M449 154.5h1M473 154.5h1M351 155.5h2M356 155.5h1M358 155.5h10M372 155.5h1M380 155.5h1M386 155.5h1M397 155.5h1M408 155.5h1M413 155.5h1M415 155.5h1M429 155.5h1M431 155.5h1M453 155.5h1M346 156.5h1M349 156.5h1M351 156.5h2M354 156.5h2M357 156.5h1M359 156.5h3M364 156.5h4M370 156.5h2M379 156.5h1M387 156.5h1M390 156.5h1M400 156.5h1M413 156.5h1M417 156.5h1M431 156.5h1M352 157.5h3M356 157.5h11M368 157.5h2M376 157.5h1M383 157.5h1M387 157.5h1M390 157.5h1M394 157.5h2M412 157.5h1M417 157.5h2M439 157.5h1M445 157.5h1M351 158.5h1M353 158.5h8M362 158.5h4M367 158.5h2M373 158.5h1M376 158.5h1M382 158.5h1M387 158.5h1M393 158.5h1M408 158.5h1M410 158.5h1M415 158.5h1M421 158.5h1M425 158.5h1M427 158.5h1M345 159.5h1M351 159.5h1M354 159.5h1M356 159.5h1M359 159.5h2M362 159.5h4M367 159.5h2M370 159.5h1M375 159.5h1M382 159.5h1M385 159.5h1M388 159.5h1M398 159.5h1M405 159.5h2M411 159.5h1M413 159.5h1M415 159.5h1M421 159.5h1M439 159.5h1M335 160.5h1M339 160.5h1M349 160.5h1M356 160.5h2M360 160.5h8M369 160.5h1M371 160.5h1M379 160.5h1M386 160.5h1M399 160.5h1M426 160.5h1M433 160.5h2M457 160.5h1M348 161.5h3M352 161.5h3M357 161.5h8M369 161.5h1M386 161.5h1M392 161.5h1M403 161.5h1M407 161.5h1M435 161.5h1M453 161.5h1M344 162.5h1M347 162.5h1M352 162.5h1M355 162.5h1M358 162.5h2M361 162.5h7M369 162.5h1M373 162.5h2M380 162.5h1M392 162.5h1M394 162.5h1M399 162.5h1M415 162.5h1M430 162.5h1M346 163.5h1M352 163.5h4M357 163.5h1M359 163.5h14M383 163.5h2M399 163.5h1M418 163.5h1M439 163.5h1M446 163.5h1M341 164.5h1M353 164.5h2M356 164.5h3M360 164.5h14M385 164.5h1M391 164.5h1M393 164.5h1M395 164.5h1M412 164.5h1M424 164.5h1M430 164.5h1M436 164.5h1M438 164.5h1M444 164.5h1M447 164.5h2M342 165.5h1M348 165.5h1M350 165.5h2M354 165.5h3M358 165.5h16M382 165.5h1M388 165.5h1M393 165.5h1M409 165.5h1M417 165.5h1M439 165.5h1M443 165.5h1M450 165.5h1M457 165.5h1M347 166.5h2M351 166.5h1M353 166.5h1M355 166.5h2M358 166.5h8M367 166.5h4M376 166.5h1M378 166.5h1M391 166.5h1M412 166.5h2M441 166.5h1M447 166.5h1M351 167.5h1M353 167.5h2M356 167.5h2M359 167.5h7M367 167.5h6M375 167.5h1M409 167.5h1M411 167.5h1M416 167.5h4M425 167.5h1M429 167.5h1M433 167.5h1M446 167.5h1M450 167.5h1M348 168.5h2M351 168.5h14M366 168.5h4M371 168.5h5M378 168.5h1M397 168.5h3M407 168.5h1M425 168.5h1M444 168.5h1M346 169.5h2M349 169.5h3M354 169.5h15M371 169.5h2M377 169.5h1M379 169.5h1M382 169.5h1M391 169.5h2M402 169.5h2M406 169.5h1M412 169.5h2M427 169.5h1M433 169.5h1M453 169.5h1M348 170.5h1M352 170.5h1M354 170.5h1M356 170.5h16M373 170.5h1M376 170.5h1M393 170.5h1M397 170.5h2M404 170.5h1M412 170.5h2M415 170.5h1M419 170.5h1M424 170.5h1M426 170.5h1M431 170.5h1M434 170.5h2M348 171.5h2M351 171.5h1M355 171.5h15M372 171.5h2M375 171.5h1M382 171.5h1M389 171.5h2M392 171.5h1M394 171.5h1M396 171.5h1M398 171.5h1M402 171.5h1M414 171.5h1M421 171.5h1M423 171.5h1M431 171.5h1M435 171.5h1M445 171.5h1M449 171.5h1M340 172.5h1M345 172.5h1M348 172.5h2M351 172.5h2M354 172.5h3M358 172.5h15M374 172.5h1M376 172.5h1M391 172.5h2M406 172.5h1M410 172.5h1M422 172.5h1M426 172.5h1M441 172.5h1M448 172.5h1M450 172.5h1M340 173.5h1M344 173.5h1M347 173.5h1M350 173.5h1M352 173.5h16M369 173.5h3M374 173.5h1M392 173.5h2M403 173.5h1M409 173.5h1M414 173.5h1M419 173.5h1M423 173.5h2M429 173.5h1M433 173.5h1M437 173.5h1M441 173.5h1M446 173.5h1M454 173.5h1M341 174.5h1M344 174.5h2M347 174.5h3M351 174.5h2M354 174.5h15M371 174.5h4M376 174.5h2M383 174.5h1M387 174.5h1M392 174.5h1M394 174.5h3M406 174.5h1M422 174.5h1M433 174.5h1M437 174.5h1M444 174.5h2M336 175.5h1M344 175.5h2M347 175.5h5M353 175.5h18M372 175.5h3M379 175.5h2M385 175.5h1M387 175.5h1M392 175.5h1M401 175.5h1M403 175.5h2M411 175.5h1M414 175.5h1M420 175.5h1M423 175.5h1M427 175.5h2M433 175.5h1M437 175.5h1M452 175.5h1M339 176.5h1M343 176.5h1M346 176.5h1M349 176.5h1M351 176.5h1M353 176.5h9M363 176.5h1M365 176.5h5M371 176.5h1M376 176.5h1M383 176.5h1M386 176.5h5M395 176.5h2M400 176.5h1M402 176.5h2M406 176.5h1M408 176.5h1M410 176.5h1M414 176.5h1M416 176.5h1M419 176.5h1M422 176.5h1M426 176.5h1M428 176.5h2M441 176.5h1M340 177.5h2M347 177.5h3M351 177.5h20M375 177.5h1M379 177.5h2M383 177.5h1M385 177.5h1M396 177.5h2M400 177.5h1M407 177.5h1M418 177.5h1M426 177.5h1M429 177.5h1M435 177.5h3M440 177.5h1M453 177.5h1M341 178.5h1M343 178.5h1M345 178.5h1M348 178.5h23M374 178.5h1M376 178.5h2M379 178.5h1M383 178.5h1M385 178.5h1M388 178.5h3M393 178.5h1M398 178.5h1M403 178.5h1M409 178.5h2M412 178.5h4M418 178.5h1M426 178.5h3M430 178.5h1M433 178.5h1M435 178.5h1M438 178.5h3M444 178.5h1M447 178.5h1M449 178.5h1M467 178.5h1M341 179.5h2M344 179.5h1M346 179.5h8M355 179.5h15M371 179.5h1M379 179.5h1M387 179.5h2M390 179.5h1M394 179.5h1M399 179.5h2M406 179.5h1M408 179.5h2M412 179.5h1M415 179.5h1M417 179.5h1M423 179.5h1M425 179.5h1M434 179.5h2M444 179.5h1M453 179.5h3M460 179.5h1M340 180.5h1M343 180.5h3M347 180.5h3M351 180.5h12M364 180.5h1M367 180.5h1M375 180.5h1M377 180.5h2M385 180.5h1M389 180.5h1M391 180.5h2M396 180.5h1M398 180.5h3M402 180.5h1M404 180.5h2M410 180.5h3M415 180.5h1M421 180.5h2M424 180.5h1M426 180.5h3M432 180.5h2M443 180.5h1M445 180.5h1M447 180.5h1M450 180.5h2M462 180.5h1M339 181.5h1M343 181.5h1M346 181.5h20M370 181.5h2M377 181.5h2M383 181.5h1M396 181.5h4M407 181.5h1M409 181.5h8M418 181.5h7M428 181.5h1M430 181.5h2M434 181.5h1M436 181.5h2M439 181.5h1M442 181.5h1M444 181.5h1M447 181.5h1M461 181.5h1M328 182.5h1M339 182.5h1M344 182.5h3M348 182.5h1M350 182.5h1M352 182.5h9M362 182.5h2M366 182.5h4M375 182.5h3M381 182.5h2M387 182.5h2M395 182.5h1M400 182.5h1M408 182.5h1M411 182.5h3M415 182.5h1M417 182.5h2M421 182.5h4M426 182.5h2M431 182.5h1M434 182.5h4M442 182.5h1M447 182.5h3M452 182.5h1M332 183.5h1M336 183.5h1M346 183.5h17M366 183.5h1M370 183.5h1M377 183.5h1M387 183.5h2M390 183.5h1M392 183.5h1M394 183.5h2M398 183.5h1M400 183.5h1M402 183.5h1M404 183.5h1M406 183.5h1M408 183.5h2M411 183.5h3M416 183.5h2M421 183.5h1M427 183.5h1M431 183.5h1M436 183.5h1M440 183.5h3M446 183.5h2M465 183.5h1M335 184.5h2M339 184.5h1M341 184.5h1M343 184.5h5M349 184.5h1M351 184.5h15M368 184.5h1M373 184.5h1M378 184.5h1M386 184.5h1M390 184.5h1M393 184.5h1M396 184.5h3M405 184.5h1M408 184.5h1M410 184.5h1M412 184.5h1M421 184.5h2M426 184.5h2M432 184.5h2M435 184.5h1M438 184.5h1M440 184.5h3M447 184.5h2M450 184.5h1M329 185.5h1M331 185.5h1M336 185.5h1M339 185.5h1M341 185.5h1M343 185.5h12M356 185.5h1M358 185.5h2M361 185.5h2M365 185.5h1M368 185.5h1M370 185.5h1M372 185.5h1M374 185.5h1M383 185.5h1M393 185.5h1M395 185.5h1M399 185.5h2M402 185.5h1M406 185.5h3M410 185.5h2M426 185.5h1M430 185.5h1M437 185.5h2M441 185.5h1M444 185.5h1M451 185.5h1M456 185.5h1M334 186.5h1M337 186.5h1M339 186.5h1M341 186.5h21M364 186.5h1M368 186.5h1M374 186.5h1M388 186.5h1M395 186.5h1M398 186.5h1M400 186.5h1M407 186.5h1M412 186.5h1M414 186.5h1M417 186.5h1M422 186.5h1M426 186.5h5M435 186.5h1M440 186.5h2M444 186.5h1M446 186.5h1M449 186.5h1M466 186.5h1M326 187.5h1M333 187.5h1M335 187.5h1M338 187.5h1M341 187.5h18M360 187.5h1M363 187.5h2M367 187.5h1M369 187.5h1M374 187.5h1M402 187.5h1M410 187.5h1M423 187.5h1M426 187.5h1M430 187.5h1M434 187.5h1M436 187.5h1M452 187.5h1M465 187.5h1M333 188.5h1M335 188.5h7M343 188.5h10M354 188.5h2M358 188.5h1M362 188.5h1M372 188.5h1M374 188.5h1M388 188.5h1M390 188.5h1M403 188.5h2M421 188.5h1M454 188.5h2M457 188.5h1M460 188.5h1M334 189.5h2M339 189.5h10M350 189.5h5M357 189.5h3M361 189.5h1M379 189.5h1M385 189.5h1M387 189.5h1M393 189.5h1M402 189.5h1M424 189.5h1M428 189.5h1M431 189.5h1M433 189.5h1M448 189.5h1M323 190.5h1M332 190.5h3M336 190.5h3M340 190.5h12M353 190.5h3M357 190.5h2M360 190.5h3M395 190.5h1M399 190.5h2M407 190.5h1M411 190.5h1M416 190.5h1M331 191.5h2M336 191.5h2M339 191.5h5M346 191.5h10M357 191.5h2M361 191.5h1M364 191.5h1M389 191.5h1M396 191.5h1M411 191.5h1M413 191.5h1M415 191.5h1M428 191.5h1M434 191.5h1M442 191.5h1M449 191.5h1M326 192.5h1M329 192.5h1M331 192.5h1M333 192.5h1M336 192.5h3M340 192.5h14M357 192.5h1M360 192.5h2M364 192.5h1M325 193.5h2M330 193.5h1M332 193.5h2M335 193.5h1M337 193.5h19M358 193.5h2M361 193.5h1M369 193.5h1M371 193.5h1M420 193.5h1M433 193.5h1M453 193.5h1M322 194.5h1M331 194.5h3M335 194.5h2M338 194.5h14M353 194.5h2M356 194.5h1M358 194.5h1M394 194.5h1M328 195.5h1M331 195.5h4M336 195.5h4M341 195.5h2M344 195.5h9M361 195.5h1M383 195.5h1M408 195.5h1M422 195.5h1M432 195.5h2M328 196.5h1M330 196.5h4M335 196.5h18M354 196.5h3M358 196.5h1M391 196.5h1M322 197.5h1M326 197.5h3M331 197.5h2M334 197.5h16M352 197.5h3M356 197.5h1M358 197.5h2M408 197.5h1M429 197.5h1M324 198.5h1M326 198.5h7M334 198.5h13M348 198.5h3M352 198.5h1M355 198.5h3M401 198.5h1M442 198.5h1M446 198.5h1M322 199.5h1M327 199.5h3M332 199.5h13M346 199.5h7M354 199.5h1M356 199.5h1M358 199.5h1M362 199.5h1M445 199.5h1M325 200.5h1M328 200.5h17M346 200.5h1M349 200.5h2M352 200.5h2M324 201.5h6M331 201.5h17M349 201.5h2M358 201.5h2M322 202.5h1M324 202.5h1M326 202.5h22M350 202.5h1M357 202.5h1M322 203.5h1M327 203.5h3M331 203.5h14M347 203.5h3M355 203.5h1M324 204.5h22M349 204.5h1M353 204.5h1M357 204.5h1M328 205.5h18M326 206.5h2M329 206.5h2M332 206.5h1M334 206.5h9M344 206.5h3M327 207.5h4M332 207.5h10M346 207.5h1M351 207.5h1M326 208.5h1M328 208.5h1M330 208.5h8M339 208.5h5M345 208.5h6M326 209.5h1M330 209.5h1M332 209.5h9M342 209.5h2M345 209.5h1M350 209.5h1M330 210.5h1M332 210.5h2M336 210.5h1M338 210.5h3M342 210.5h2M345 210.5h2M348 210.5h1M328 211.5h2M333 211.5h2M336 211.5h1M338 211.5h5M346 211.5h1M326 212.5h1M328 212.5h1M335 212.5h2M340 212.5h1M328 213.5h1M331 213.5h1M333 213.5h1M335 213.5h1M338 213.5h1M340 213.5h1M342 213.5h1M344 213.5h1M333 214.5h2M337 214.5h1M341 214.5h2M346 214.5h1M351 214.5h1M332 215.5h1M334 215.5h2M347 215.5h1M336 216.5h1M348 216.5h1M327 217.5h1M336 217.5h1M335 218.5h1" stroke="#111" stroke-width="1" fill="none" shape-rendering="crispEdges"/>
<rect x="82.2" y="37.2" width="183.0" height="183.5" fill="none" stroke="#222" stroke-width="1.3"/>
<line x1="140.9" y1="37.2" x2="140.9" y2="220.7" stroke="#333" stroke-width="1.3"/>
<line x1="82.2" y1="161.5" x2="265.2" y2="161.5" stroke="#333" stroke-width="1.3"/>
<text x="82.2" y="230.2" font-size="8" style="stroke-width:0.45px">10<tspan dy="-3" font-size="5.5">0</tspan></text>
<line x1="82.2" y1="220.7" x2="82.2" y2="222.7" stroke="#333" stroke-width="1"/>
<text x="128.0" y="230.2" font-size="8" style="stroke-width:0.45px">10<tspan dy="-3" font-size="5.5">1</tspan></text>
<line x1="127.95" y1="220.7" x2="127.95" y2="222.7" stroke="#333" stroke-width="1"/>
<text x="173.7" y="230.2" font-size="8" style="stroke-width:0.45px">10<tspan dy="-3" font-size="5.5">2</tspan></text>
<line x1="173.7" y1="220.7" x2="173.7" y2="222.7" stroke="#333" stroke-width="1"/>
<text x="219.4" y="230.2" font-size="8" style="stroke-width:0.45px">10<tspan dy="-3" font-size="5.5">3</tspan></text>
<line x1="219.45" y1="220.7" x2="219.45" y2="222.7" stroke="#333" stroke-width="1"/>
<text x="265.2" y="230.2" font-size="8" style="stroke-width:0.45px">10<tspan dy="-3" font-size="5.5">4</tspan></text>
<line x1="265.2" y1="220.7" x2="265.2" y2="222.7" stroke="#333" stroke-width="1"/>
<text x="79.2" y="220.7" font-size="8" style="stroke-width:0.45px" transform="rotate(-90 79.2 220.7)">10<tspan dy="-3" font-size="5.5">0</tspan></text>
<line x1="80.2" y1="220.7" x2="82.2" y2="220.7" stroke="#333" stroke-width="1"/>
<text x="79.2" y="174.8" font-size="8" style="stroke-width:0.45px" transform="rotate(-90 79.2 174.8)">10<tspan dy="-3" font-size="5.5">1</tspan></text>
<line x1="80.2" y1="174.825" x2="82.2" y2="174.825" stroke="#333" stroke-width="1"/>
<text x="79.2" y="128.9" font-size="8" style="stroke-width:0.45px" transform="rotate(-90 79.2 128.9)">10<tspan dy="-3" font-size="5.5">2</tspan></text>
<line x1="80.2" y1="128.95" x2="82.2" y2="128.95" stroke="#333" stroke-width="1"/>
<text x="79.2" y="83.1" font-size="8" style="stroke-width:0.45px" transform="rotate(-90 79.2 83.1)">10<tspan dy="-3" font-size="5.5">3</tspan></text>
<line x1="80.2" y1="83.07499999999999" x2="82.2" y2="83.07499999999999" stroke="#333" stroke-width="1"/>
<text x="79.2" y="37.2" font-size="8" style="stroke-width:0.45px" transform="rotate(-90 79.2 37.2)">10<tspan dy="-3" font-size="5.5">4</tspan></text>
<line x1="80.2" y1="37.19999999999999" x2="82.2" y2="37.19999999999999" stroke="#333" stroke-width="1"/>
<path d="M80.6 206.9h1.6M96.0 220.7v1.6M80.6 198.8h1.6M104.0 220.7v1.6M80.6 193.1h1.6M109.7 220.7v1.6M80.6 188.6h1.6M114.2 220.7v1.6M80.6 185.0h1.6M117.8 220.7v1.6M80.6 181.9h1.6M120.9 220.7v1.6M80.6 179.3h1.6M123.5 220.7v1.6M80.6 176.9h1.6M125.9 220.7v1.6M80.6 161.0h1.6M141.7 220.7v1.6M80.6 152.9h1.6M149.8 220.7v1.6M80.6 147.2h1.6M155.5 220.7v1.6M80.6 142.8h1.6M159.9 220.7v1.6M80.6 139.1h1.6M163.6 220.7v1.6M80.6 136.1h1.6M166.6 220.7v1.6M80.6 133.4h1.6M169.3 220.7v1.6M80.6 131.0h1.6M171.6 220.7v1.6M80.6 115.1h1.6M187.5 220.7v1.6M80.6 107.1h1.6M195.5 220.7v1.6M80.6 101.3h1.6M201.2 220.7v1.6M80.6 96.9h1.6M205.7 220.7v1.6M80.6 93.3h1.6M209.3 220.7v1.6M80.6 90.2h1.6M212.4 220.7v1.6M80.6 87.5h1.6M215.0 220.7v1.6M80.6 85.2h1.6M217.4 220.7v1.6M80.6 69.3h1.6M233.2 220.7v1.6M80.6 61.2h1.6M241.3 220.7v1.6M80.6 55.5h1.6M247.0 220.7v1.6M80.6 51.0h1.6M251.4 220.7v1.6M80.6 47.4h1.6M255.1 220.7v1.6M80.6 44.3h1.6M258.1 220.7v1.6M80.6 41.6h1.6M260.8 220.7v1.6M80.6 39.3h1.6M263.1 220.7v1.6" stroke="#444" stroke-width="0.9" fill="none"/>
<rect x="321.3" y="37.1" width="185.7" height="182.9" fill="none" stroke="#222" stroke-width="1.3"/>
<line x1="380.6" y1="37.1" x2="380.6" y2="220.0" stroke="#333" stroke-width="1.3"/>
<line x1="321.3" y1="161.0" x2="507.0" y2="161.0" stroke="#333" stroke-width="1.3"/>
<text x="321.3" y="229.5" font-size="8" style="stroke-width:0.45px">10<tspan dy="-3" font-size="5.5">0</tspan></text>
<line x1="321.3" y1="220.0" x2="321.3" y2="222.0" stroke="#333" stroke-width="1"/>
<text x="367.7" y="229.5" font-size="8" style="stroke-width:0.45px">10<tspan dy="-3" font-size="5.5">1</tspan></text>
<line x1="367.725" y1="220.0" x2="367.725" y2="222.0" stroke="#333" stroke-width="1"/>
<text x="414.1" y="229.5" font-size="8" style="stroke-width:0.45px">10<tspan dy="-3" font-size="5.5">2</tspan></text>
<line x1="414.15" y1="220.0" x2="414.15" y2="222.0" stroke="#333" stroke-width="1"/>
<text x="460.6" y="229.5" font-size="8" style="stroke-width:0.45px">10<tspan dy="-3" font-size="5.5">3</tspan></text>
<line x1="460.575" y1="220.0" x2="460.575" y2="222.0" stroke="#333" stroke-width="1"/>
<text x="507.0" y="229.5" font-size="8" style="stroke-width:0.45px">10<tspan dy="-3" font-size="5.5">4</tspan></text>
<line x1="507.0" y1="220.0" x2="507.0" y2="222.0" stroke="#333" stroke-width="1"/>
<text x="318.3" y="220.0" font-size="8" style="stroke-width:0.45px" transform="rotate(-90 318.3 220.0)">10<tspan dy="-3" font-size="5.5">0</tspan></text>
<line x1="319.3" y1="220.0" x2="321.3" y2="220.0" stroke="#333" stroke-width="1"/>
<text x="318.3" y="174.3" font-size="8" style="stroke-width:0.45px" transform="rotate(-90 318.3 174.3)">10<tspan dy="-3" font-size="5.5">1</tspan></text>
<line x1="319.3" y1="174.275" x2="321.3" y2="174.275" stroke="#333" stroke-width="1"/>
<text x="318.3" y="128.6" font-size="8" style="stroke-width:0.45px" transform="rotate(-90 318.3 128.6)">10<tspan dy="-3" font-size="5.5">2</tspan></text>
<line x1="319.3" y1="128.55" x2="321.3" y2="128.55" stroke="#333" stroke-width="1"/>
<text x="318.3" y="82.8" font-size="8" style="stroke-width:0.45px" transform="rotate(-90 318.3 82.8)">10<tspan dy="-3" font-size="5.5">3</tspan></text>
<line x1="319.3" y1="82.82499999999999" x2="321.3" y2="82.82499999999999" stroke="#333" stroke-width="1"/>
<text x="318.3" y="37.1" font-size="8" style="stroke-width:0.45px" transform="rotate(-90 318.3 37.1)">10<tspan dy="-3" font-size="5.5">4</tspan></text>
<line x1="319.3" y1="37.099999999999994" x2="321.3" y2="37.099999999999994" stroke="#333" stroke-width="1"/>
<path d="M319.7 206.2h1.6M335.3 220.0v1.6M319.7 198.2h1.6M343.5 220.0v1.6M319.7 192.5h1.6M349.3 220.0v1.6M319.7 188.0h1.6M353.7 220.0v1.6M319.7 184.4h1.6M357.4 220.0v1.6M319.7 181.4h1.6M360.5 220.0v1.6M319.7 178.7h1.6M363.2 220.0v1.6M319.7 176.4h1.6M365.6 220.0v1.6M319.7 160.5h1.6M381.7 220.0v1.6M319.7 152.5h1.6M389.9 220.0v1.6M319.7 146.7h1.6M395.7 220.0v1.6M319.7 142.3h1.6M400.2 220.0v1.6M319.7 138.7h1.6M403.9 220.0v1.6M319.7 135.6h1.6M407.0 220.0v1.6M319.7 133.0h1.6M409.7 220.0v1.6M319.7 130.6h1.6M412.0 220.0v1.6M319.7 114.8h1.6M428.1 220.0v1.6M319.7 106.7h1.6M436.3 220.0v1.6M319.7 101.0h1.6M442.1 220.0v1.6M319.7 96.6h1.6M446.6 220.0v1.6M319.7 93.0h1.6M450.3 220.0v1.6M319.7 89.9h1.6M453.4 220.0v1.6M319.7 87.3h1.6M456.1 220.0v1.6M319.7 84.9h1.6M458.5 220.0v1.6M319.7 69.1h1.6M474.6 220.0v1.6M319.7 61.0h1.6M482.7 220.0v1.6M319.7 55.3h1.6M488.5 220.0v1.6M319.7 50.9h1.6M493.0 220.0v1.6M319.7 47.2h1.6M496.7 220.0v1.6M319.7 44.2h1.6M499.8 220.0v1.6M319.7 41.5h1.6M502.5 220.0v1.6M319.7 39.2h1.6M504.9 220.0v1.6" stroke="#444" stroke-width="0.9" fill="none"/>
<text x="120.5" y="62.8" font-size="24.5">2</text>
<text x="243" y="62.3" font-size="24.5">8</text>
<text x="229" y="187.5" font-size="24.5">57</text>
<text x="349" y="62" font-size="24.5">31</text>
<text x="485" y="62.3" font-size="24.5">9</text>
<text x="485" y="187.5" font-size="24.5">8</text>
<path d="M46 249 V194" stroke="#000" stroke-width="2" fill="none"/>
<path d="M38 194.5 L46 178.5 L54.3 194.5 Z" fill="#000"/>
<path d="M45 248.8 H99" stroke="#000" stroke-width="2" fill="none"/>
<path d="M98.5 240 L115.5 248.5 L98.5 257 Z" fill="#000"/>
<text x="54.2" y="173" font-size="26.5" transform="rotate(-90 54.2 173)" textLength="45" lengthAdjust="spacingAndGlyphs">IL-4</text>
<text x="122.5" y="257.4" font-size="26.8" textLength="50" lengthAdjust="spacingAndGlyphs">IFN-</text>
<text x="171.5" y="257.4" font-size="25" font-style="italic" style="font-family:&quot;Liberation Serif&quot;,serif">γ</text>
<line x1="81.6" y1="321.1" x2="81.6" y2="447.3" stroke="#000" stroke-width="1.7"/>
<line x1="75.1" y1="447.3" x2="271.5" y2="447.3" stroke="#000" stroke-width="1.7"/>
<line x1="75.1" y1="447.3" x2="81.6" y2="447.3" stroke="#000" stroke-width="1.7"/>
<text x="71.6" y="453.1" font-size="16.5" text-anchor="end">0</text>
<line x1="75.1" y1="415.75" x2="81.6" y2="415.75" stroke="#000" stroke-width="1.7"/>
<text x="71.6" y="421.55" font-size="16.5" text-anchor="end">25</text>
<line x1="75.1" y1="384.20000000000005" x2="81.6" y2="384.20000000000005" stroke="#000" stroke-width="1.7"/>
<text x="71.6" y="390.00000000000006" font-size="16.5" text-anchor="end">50</text>
<line x1="75.1" y1="352.65000000000003" x2="81.6" y2="352.65000000000003" stroke="#000" stroke-width="1.7"/>
<text x="71.6" y="358.45000000000005" font-size="16.5" text-anchor="end">75</text>
<line x1="75.1" y1="321.1" x2="81.6" y2="321.1" stroke="#000" stroke-width="1.7"/>
<text x="71.6" y="326.90000000000003" font-size="16.5" text-anchor="end">100</text>
<rect x="100.4" y="419.3" width="38.400000000000006" height="28.0" fill="#000"/>
<rect x="157" y="352.0" width="38.400000000000006" height="95.3" fill="#000"/>
<rect x="213.8" y="331.4" width="38.5" height="115.9" fill="#000"/>
<text x="127.5" y="540" font-size="26.5" transform="rotate(-90 127.5 540)" textLength="70" lengthAdjust="spacingAndGlyphs">CCR4</text>
<text x="184.0" y="540" font-size="26.5" transform="rotate(-90 184.0 540)" textLength="70" lengthAdjust="spacingAndGlyphs">CCR5</text>
<text x="242.2" y="540" font-size="26.5" transform="rotate(-90 242.2 540)" textLength="89" lengthAdjust="spacingAndGlyphs">CXCR3</text>
<line x1="321.3" y1="320.0" x2="321.3" y2="446.9" stroke="#000" stroke-width="1.7"/>
<line x1="314.8" y1="446.9" x2="512" y2="446.9" stroke="#000" stroke-width="1.7"/>
<line x1="314.8" y1="446.9" x2="321.3" y2="446.9" stroke="#000" stroke-width="1.7"/>
<text x="311.3" y="452.7" font-size="16.5" text-anchor="end">0</text>
<line x1="314.8" y1="415.17499999999995" x2="321.3" y2="415.17499999999995" stroke="#000" stroke-width="1.7"/>
<text x="311.3" y="420.97499999999997" font-size="16.5" text-anchor="end">25</text>
<line x1="314.8" y1="383.45" x2="321.3" y2="383.45" stroke="#000" stroke-width="1.7"/>
<text x="311.3" y="389.25" font-size="16.5" text-anchor="end">50</text>
<line x1="314.8" y1="351.725" x2="321.3" y2="351.725" stroke="#000" stroke-width="1.7"/>
<text x="311.3" y="357.52500000000003" font-size="16.5" text-anchor="end">75</text>
<line x1="314.8" y1="320.0" x2="321.3" y2="320.0" stroke="#000" stroke-width="1.7"/>
<text x="311.3" y="325.8" font-size="16.5" text-anchor="end">100</text>
<rect x="340" y="332.3" width="38.5" height="114.6" fill="#000"/>
<rect x="396.7" y="408.3" width="38.5" height="38.6" fill="#000"/>
<rect x="453.5" y="391.7" width="38.80000000000001" height="55.2" fill="#000"/>
<text x="370.2" y="540" font-size="26.5" transform="rotate(-90 370.2 540)" textLength="70" lengthAdjust="spacingAndGlyphs">CCR4</text>
<text x="425.3" y="540" font-size="26.5" transform="rotate(-90 425.3 540)" textLength="70" lengthAdjust="spacingAndGlyphs">CCR5</text>
<text x="485.6" y="540" font-size="26.5" transform="rotate(-90 485.6 540)" textLength="89" lengthAdjust="spacingAndGlyphs">CXCR3</text>
<text x="22.9" y="482.2" font-size="25.5" transform="rotate(-90 22.9 482.2)" textLength="205" lengthAdjust="spacingAndGlyphs">% of positive cells</text>
<line x1="80.8" y1="563.5" x2="80.8" y2="728.5" stroke="#000" stroke-width="1.5"/>
<line x1="72.8" y1="728.5" x2="266.5" y2="728.5" stroke="#000" stroke-width="1.5"/>
<line x1="72.8" y1="728.5" x2="80.8" y2="728.5" stroke="#000" stroke-width="1.5"/>
<text x="69.0" y="734.1" font-size="16" text-anchor="end" textLength="9.3" lengthAdjust="spacing">0</text>
<line x1="72.8" y1="687.25" x2="80.8" y2="687.25" stroke="#000" stroke-width="1.5"/>
<text x="69.0" y="692.9" font-size="16" text-anchor="end" textLength="30.8" lengthAdjust="spacing">250</text>
<line x1="72.8" y1="646.0" x2="80.8" y2="646.0" stroke="#000" stroke-width="1.5"/>
<text x="69.0" y="651.6" font-size="16" text-anchor="end" textLength="30.8" lengthAdjust="spacing">500</text>
<line x1="72.8" y1="604.75" x2="80.8" y2="604.75" stroke="#000" stroke-width="1.5"/>
<text x="69.0" y="610.4" font-size="16" text-anchor="end" textLength="30.8" lengthAdjust="spacing">750</text>
<line x1="72.8" y1="563.5" x2="80.8" y2="563.5" stroke="#000" stroke-width="1.5"/>
<text x="69.0" y="569.1" font-size="16" text-anchor="end" textLength="41.8" lengthAdjust="spacing">1000</text>
<line x1="111.3" y1="728.5" x2="111.3" y2="735.0" stroke="#000" stroke-width="1.5"/>
<text x="110.6" y="752.7" font-size="16" text-anchor="middle" textLength="57.0" lengthAdjust="spacing">1:1000</text>
<line x1="173.5" y1="728.5" x2="173.5" y2="735.0" stroke="#000" stroke-width="1.5"/>
<text x="172.8" y="752.7" font-size="16" text-anchor="middle" textLength="48.6" lengthAdjust="spacing">1:500</text>
<line x1="235.4" y1="728.5" x2="235.4" y2="735.0" stroke="#000" stroke-width="1.5"/>
<text x="234.7" y="752.7" font-size="16" text-anchor="middle" textLength="48.6" lengthAdjust="spacing">1:100</text>
<text x="71.2" y="783.5" font-size="26.5" textLength="205" lengthAdjust="spacingAndGlyphs">Immature DC sup</text>
<line x1="324.0" y1="563.2" x2="324.0" y2="727.9" stroke="#000" stroke-width="1.5"/>
<line x1="316.0" y1="727.9" x2="510.7" y2="727.9" stroke="#000" stroke-width="1.5"/>
<line x1="316.0" y1="727.9" x2="324.0" y2="727.9" stroke="#000" stroke-width="1.5"/>
<text x="312.2" y="733.5" font-size="16" text-anchor="end" textLength="9.3" lengthAdjust="spacing">0</text>
<line x1="316.0" y1="686.725" x2="324.0" y2="686.725" stroke="#000" stroke-width="1.5"/>
<text x="312.2" y="692.3" font-size="16" text-anchor="end" textLength="30.8" lengthAdjust="spacing">250</text>
<line x1="316.0" y1="645.55" x2="324.0" y2="645.55" stroke="#000" stroke-width="1.5"/>
<text x="312.2" y="651.1" font-size="16" text-anchor="end" textLength="30.8" lengthAdjust="spacing">500</text>
<line x1="316.0" y1="604.375" x2="324.0" y2="604.375" stroke="#000" stroke-width="1.5"/>
<text x="312.2" y="610.0" font-size="16" text-anchor="end" textLength="30.8" lengthAdjust="spacing">750</text>
<line x1="316.0" y1="563.2" x2="324.0" y2="563.2" stroke="#000" stroke-width="1.5"/>
<text x="312.2" y="568.8" font-size="16" text-anchor="end" textLength="41.8" lengthAdjust="spacing">1000</text>
<line x1="354.4" y1="727.9" x2="354.4" y2="734.4" stroke="#000" stroke-width="1.5"/>
<text x="353.7" y="752.1" font-size="16" text-anchor="middle" textLength="57.0" lengthAdjust="spacing">1:1000</text>
<line x1="417.1" y1="727.9" x2="417.1" y2="734.4" stroke="#000" stroke-width="1.5"/>
<text x="416.4" y="752.1" font-size="16" text-anchor="middle" textLength="48.6" lengthAdjust="spacing">1:500</text>
<line x1="479.1" y1="727.9" x2="479.1" y2="734.4" stroke="#000" stroke-width="1.5"/>
<text x="478.4" y="752.1" font-size="16" text-anchor="middle" textLength="48.6" lengthAdjust="spacing">1:100</text>
<text x="315.4" y="783" font-size="26.5" textLength="205" lengthAdjust="spacingAndGlyphs">Immature DC sup</text>
<line x1="80.6" y1="812.6" x2="80.6" y2="976.9" stroke="#000" stroke-width="1.5"/>
<line x1="72.6" y1="976.9" x2="266.5" y2="976.9" stroke="#000" stroke-width="1.5"/>
<line x1="72.6" y1="976.9" x2="80.6" y2="976.9" stroke="#000" stroke-width="1.5"/>
<text x="68.8" y="982.5" font-size="16" text-anchor="end" textLength="9.3" lengthAdjust="spacing">0</text>
<line x1="72.6" y1="935.825" x2="80.6" y2="935.825" stroke="#000" stroke-width="1.5"/>
<text x="68.8" y="941.4" font-size="16" text-anchor="end" textLength="30.8" lengthAdjust="spacing">250</text>
<line x1="72.6" y1="894.75" x2="80.6" y2="894.75" stroke="#000" stroke-width="1.5"/>
<text x="68.8" y="900.4" font-size="16" text-anchor="end" textLength="30.8" lengthAdjust="spacing">500</text>
<line x1="72.6" y1="853.675" x2="80.6" y2="853.675" stroke="#000" stroke-width="1.5"/>
<text x="68.8" y="859.3" font-size="16" text-anchor="end" textLength="30.8" lengthAdjust="spacing">750</text>
<line x1="72.6" y1="812.6" x2="80.6" y2="812.6" stroke="#000" stroke-width="1.5"/>
<text x="68.8" y="818.2" font-size="16" text-anchor="end" textLength="41.8" lengthAdjust="spacing">1000</text>
<line x1="111.6" y1="976.9" x2="111.6" y2="983.4" stroke="#000" stroke-width="1.5"/>
<text x="110.9" y="1001.1" font-size="16" text-anchor="middle" textLength="57.0" lengthAdjust="spacing">1:1000</text>
<line x1="173.7" y1="976.9" x2="173.7" y2="983.4" stroke="#000" stroke-width="1.5"/>
<text x="173.0" y="1001.1" font-size="16" text-anchor="middle" textLength="48.6" lengthAdjust="spacing">1:500</text>
<line x1="235.7" y1="976.9" x2="235.7" y2="983.4" stroke="#000" stroke-width="1.5"/>
<text x="235.0" y="1001.1" font-size="16" text-anchor="middle" textLength="48.6" lengthAdjust="spacing">1:100</text>
<text x="87" y="1029.7" font-size="26.5" textLength="176" lengthAdjust="spacingAndGlyphs">Mature DC sup</text>
<line x1="323.8" y1="812.7" x2="323.8" y2="977.1" stroke="#000" stroke-width="1.5"/>
<line x1="315.8" y1="977.1" x2="510" y2="977.1" stroke="#000" stroke-width="1.5"/>
<line x1="315.8" y1="977.1" x2="323.8" y2="977.1" stroke="#000" stroke-width="1.5"/>
<text x="312.0" y="982.7" font-size="16" text-anchor="end" textLength="9.3" lengthAdjust="spacing">0</text>
<line x1="315.8" y1="936.0" x2="323.8" y2="936.0" stroke="#000" stroke-width="1.5"/>
<text x="312.0" y="941.6" font-size="16" text-anchor="end" textLength="30.8" lengthAdjust="spacing">250</text>
<line x1="315.8" y1="894.9000000000001" x2="323.8" y2="894.9000000000001" stroke="#000" stroke-width="1.5"/>
<text x="312.0" y="900.5" font-size="16" text-anchor="end" textLength="30.8" lengthAdjust="spacing">500</text>
<line x1="315.8" y1="853.8000000000001" x2="323.8" y2="853.8000000000001" stroke="#000" stroke-width="1.5"/>
<text x="312.0" y="859.4" font-size="16" text-anchor="end" textLength="30.8" lengthAdjust="spacing">750</text>
<line x1="315.8" y1="812.7" x2="323.8" y2="812.7" stroke="#000" stroke-width="1.5"/>
<text x="312.0" y="818.3" font-size="16" text-anchor="end" textLength="41.8" lengthAdjust="spacing">1000</text>
<line x1="355.1" y1="977.1" x2="355.1" y2="983.6" stroke="#000" stroke-width="1.5"/>
<text x="354.4" y="1001.3000000000001" font-size="16" text-anchor="middle" textLength="57.0" lengthAdjust="spacing">1:1000</text>
<line x1="416.8" y1="977.1" x2="416.8" y2="983.6" stroke="#000" stroke-width="1.5"/>
<text x="416.1" y="1001.3000000000001" font-size="16" text-anchor="middle" textLength="48.6" lengthAdjust="spacing">1:500</text>
<line x1="479.1" y1="977.1" x2="479.1" y2="983.6" stroke="#000" stroke-width="1.5"/>
<text x="478.4" y="1001.3000000000001" font-size="16" text-anchor="middle" textLength="48.6" lengthAdjust="spacing">1:100</text>
<text x="332.7" y="1030.2" font-size="26.5" textLength="176" lengthAdjust="spacingAndGlyphs">Mature DC sup</text>
<text x="21.9" y="900.3" font-size="27" transform="rotate(-90 21.9 900.3)" textLength="224" lengthAdjust="spacingAndGlyphs">Net T cell migration</text>
<path d="M111.3 710.5 L173.4 706.0 L235.4 683.3" fill="none" stroke="#000" stroke-width="1.2"/>
<path d="M111.3 710.0 L173.4 702.8 L235.4 683.6" fill="none" stroke="#000" stroke-width="1.2"/>
<path d="M111.3 708.3 L173.4 710.3 L235.4 692.4" fill="none" stroke="#000" stroke-width="1.2"/>
<rect x="106.4" y="705.6" width="9.8" height="9.8" fill="#fff" stroke="#000" stroke-width="1.5"/>
<path d="M111.3 705.5 L115.3 713.9 L107.3 713.9 Z" fill="#fff" stroke="#000" stroke-width="1.4" stroke-linejoin="miter"/>
<circle cx="111.3" cy="708.3" r="4.65" fill="#fff" stroke="#000" stroke-width="1.5"/>
<rect x="168.5" y="701.1" width="9.8" height="9.8" fill="#fff" stroke="#000" stroke-width="1.5"/>
<path d="M173.4 698.3 L177.4 706.6999999999999 L169.4 706.6999999999999 Z" fill="#fff" stroke="#000" stroke-width="1.4" stroke-linejoin="miter"/>
<circle cx="173.4" cy="710.3" r="4.65" fill="#fff" stroke="#000" stroke-width="1.5"/>
<rect x="230.5" y="678.4" width="9.8" height="9.8" fill="#fff" stroke="#000" stroke-width="1.5"/>
<path d="M235.4 679.1 L239.4 687.5 L231.4 687.5 Z" fill="#fff" stroke="#000" stroke-width="1.4" stroke-linejoin="miter"/>
<circle cx="235.4" cy="692.4" r="4.65" fill="#fff" stroke="#000" stroke-width="1.5"/>
<line x1="417.2" y1="643.6" x2="417.2" y2="650" stroke="#000" stroke-width="1.5"/>
<line x1="411.45" y1="643.6" x2="422.95" y2="643.6" stroke="#000" stroke-width="1.6"/>
<line x1="479.1" y1="632" x2="479.1" y2="652" stroke="#000" stroke-width="1.5"/>
<line x1="473.35" y1="632" x2="484.85" y2="632" stroke="#000" stroke-width="1.6"/>
<line x1="473.35" y1="652.2" x2="484.85" y2="652.2" stroke="#000" stroke-width="1.6"/>
<path d="M354.5 686.4 L417.2 653.1" fill="none" stroke="#000" stroke-width="1.5"/>
<path d="M354.5 689.8 L417.2 656.0" fill="none" stroke="#000" stroke-width="1.5"/>
<path d="M417.2 654.0 L479.1 642.6" fill="none" stroke="#000" stroke-width="3.2"/>
<rect x="349.4" y="687.0" width="10.1" height="10.1" fill="#fff" stroke="#000" stroke-width="1.5"/>
<rect x="349.4" y="683.9" width="10.1" height="10.1" fill="#fff" stroke="#000" stroke-width="1.5"/>
<rect x="411.4" y="652.8" width="11.5" height="11.5" fill="#000"/>
<rect x="411.4" y="647.0" width="11.5" height="11.5" fill="#000"/>
<rect x="474.5" y="638.8" width="9.3" height="9.3" fill="#fff" stroke="#000" stroke-width="1.5"/>
<rect x="474.5" y="634.4" width="9.3" height="9.3" fill="#fff" stroke="#000" stroke-width="1.5"/>
<circle cx="354.5" cy="688.2" r="4.55" fill="#fff" stroke="#000" stroke-width="1.5"/>
<circle cx="417.2" cy="653.5" r="4.85" fill="#fff" stroke="#000" stroke-width="1.5"/>
<circle cx="479.1" cy="640.8" r="4.55" fill="#fff" stroke="#000" stroke-width="1.5"/>
<line x1="473.70000000000005" y1="650.3" x2="484.5" y2="650.3" stroke="#000" stroke-width="1.6"/>
<line x1="473.70000000000005" y1="634.3" x2="484.5" y2="634.3" stroke="#000" stroke-width="1.6"/>
<line x1="111.6" y1="910.8" x2="111.6" y2="923.2" stroke="#000" stroke-width="1.5"/>
<line x1="105.85" y1="910.8" x2="117.35" y2="910.8" stroke="#000" stroke-width="1.6"/>
<line x1="105.85" y1="913.1" x2="117.35" y2="913.1" stroke="#000" stroke-width="1.6"/>
<line x1="105.85" y1="923" x2="117.35" y2="923" stroke="#000" stroke-width="1.6"/>
<line x1="173.7" y1="850.7" x2="173.7" y2="875.1" stroke="#000" stroke-width="1.5"/>
<line x1="167.95" y1="850.7" x2="179.45" y2="850.7" stroke="#000" stroke-width="1.6"/>
<line x1="167.95" y1="855.7" x2="179.45" y2="855.7" stroke="#000" stroke-width="1.6"/>
<line x1="167.95" y1="873.2" x2="179.45" y2="873.2" stroke="#000" stroke-width="1.6"/>
<line x1="167.95" y1="875.1" x2="179.45" y2="875.1" stroke="#000" stroke-width="1.6"/>
<line x1="235.6" y1="838.7" x2="235.6" y2="865.3" stroke="#000" stroke-width="1.5"/>
<line x1="229.85" y1="838.7" x2="241.35" y2="838.7" stroke="#000" stroke-width="1.6"/>
<line x1="229.85" y1="842.2" x2="241.35" y2="842.2" stroke="#000" stroke-width="1.6"/>
<line x1="229.85" y1="865.3" x2="241.35" y2="865.3" stroke="#000" stroke-width="1.6"/>
<line x1="235.6" y1="898.9" x2="235.6" y2="914.1" stroke="#000" stroke-width="1.5"/>
<line x1="229.85" y1="898.9" x2="241.35" y2="898.9" stroke="#000" stroke-width="1.6"/>
<line x1="229.85" y1="914.1" x2="241.35" y2="914.1" stroke="#000" stroke-width="1.6"/>
<path d="M111.6 917.0 L173.7 861.8 L235.6 851.6" fill="none" stroke="#000" stroke-width="1.5"/>
<path d="M111.6 920.0 L173.7 866.0 L235.6 855.0" fill="none" stroke="#000" stroke-width="1.5"/>
<path d="M111.6 932.6 L173.7 913.1 L235.6 906.3" fill="none" stroke="#000" stroke-width="1.3"/>
<rect x="105.9" y="927.0" width="11.3" height="11.3" fill="#000"/>
<path d="M111.6 911.5 L117.1 921.5 L106.1 921.5 Z" fill="#000"/>
<circle cx="111.6" cy="918.3" r="5.3" fill="#000"/>
<rect x="168.0" y="907.5" width="11.3" height="11.3" fill="#000"/>
<path d="M173.7 857.0 L179.2 867.0 L168.2 867.0 Z" fill="#000"/>
<circle cx="173.7" cy="865.0" r="5.3" fill="#000"/>
<rect x="229.9" y="900.6" width="11.3" height="11.3" fill="#000"/>
<path d="M235.6 847.0 L241.1 857.0 L230.1 857.0 Z" fill="#000"/>
<circle cx="235.6" cy="853.4" r="5.3" fill="#000"/>
<line x1="354.8" y1="891.5" x2="354.8" y2="911.2" stroke="#000" stroke-width="1.5"/>
<line x1="349.05" y1="891.5" x2="360.55" y2="891.5" stroke="#000" stroke-width="1.6"/>
<line x1="349.05" y1="895" x2="360.55" y2="895" stroke="#000" stroke-width="1.6"/>
<line x1="349.05" y1="909.2" x2="360.55" y2="909.2" stroke="#000" stroke-width="1.6"/>
<line x1="349.05" y1="911.2" x2="360.55" y2="911.2" stroke="#000" stroke-width="1.6"/>
<line x1="417.0" y1="850.4" x2="417.0" y2="886.2" stroke="#000" stroke-width="1.5"/>
<line x1="411.25" y1="850.4" x2="422.75" y2="850.4" stroke="#000" stroke-width="1.6"/>
<line x1="411.25" y1="853.1" x2="422.75" y2="853.1" stroke="#000" stroke-width="1.6"/>
<line x1="411.25" y1="886.2" x2="422.75" y2="886.2" stroke="#000" stroke-width="1.6"/>
<line x1="479.2" y1="822.1" x2="479.2" y2="859" stroke="#000" stroke-width="1.5"/>
<line x1="473.45" y1="822.1" x2="484.95" y2="822.1" stroke="#000" stroke-width="1.6"/>
<line x1="473.45" y1="828.2" x2="484.95" y2="828.2" stroke="#000" stroke-width="1.6"/>
<line x1="473.45" y1="854.6" x2="484.95" y2="854.6" stroke="#000" stroke-width="1.6"/>
<line x1="473.45" y1="859" x2="484.95" y2="859" stroke="#000" stroke-width="1.6"/>
<path d="M354.8 899.0 L417.0 861.5 L479.2 833.5" fill="none" stroke="#000" stroke-width="1.4"/>
<path d="M354.8 901.5 L417.0 863.5 L479.2 843.0" fill="none" stroke="#000" stroke-width="1.4"/>
<path d="M354.8 905.5 L417.0 875.0 L479.2 847.5" fill="none" stroke="#000" stroke-width="1.4"/>
<rect x="349.1" y="896.2" width="11.5" height="11.5" fill="#000"/>
<rect x="349.1" y="899.8" width="11.5" height="11.5" fill="#000"/>
<circle cx="354.8" cy="900.5" r="5.6" fill="#000"/>
<rect x="411.5" y="869.5" width="11" height="11" fill="#000"/>
<circle cx="417.0" cy="862.3" r="5.6" fill="#000"/>
<rect x="473.7" y="840.1" width="11" height="11" fill="#000"/>
<circle cx="479.2" cy="834.6" r="5.6" fill="#000"/>
<path d="M479.2 828.0 L484.7 838.0 L473.7 838.0 Z" fill="#000"/>
</svg></body></html>
